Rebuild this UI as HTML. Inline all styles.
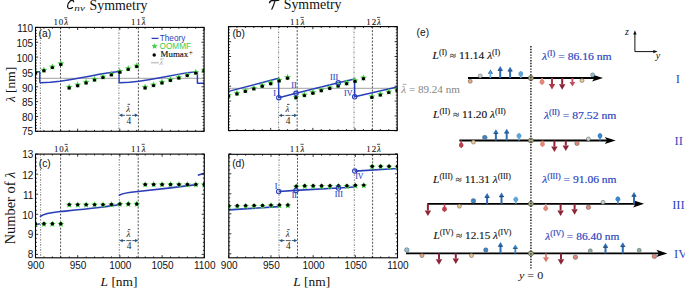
<!DOCTYPE html>
<html><head><meta charset="utf-8"><style>
html,body{margin:0;padding:0;background:#fff;width:685px;height:291px;overflow:hidden;}
svg{display:block;}

</style></head><body>
<svg width="685" height="291" viewBox="0 0 685 291">
<defs><clipPath id="clipA"><rect x="35.5" y="27.4" width="168.6" height="103.9"/></clipPath><clipPath id="clipB"><rect x="228.5" y="26.6" width="168.7" height="103.9"/></clipPath><clipPath id="clipC"><rect x="35.5" y="154.1" width="168.8" height="103.7"/></clipPath><clipPath id="clipD"><rect x="228.8" y="154.3" width="168.7" height="103.5"/></clipPath></defs>
<rect width="685" height="291" fill="#fff"/>
<line x1="40.4" y1="27.4" x2="40.4" y2="131.3" stroke="#666" stroke-width="0.9" stroke-dasharray="1.6,1.4,0.6,1.4" />
<line x1="60.5" y1="27.4" x2="60.5" y2="131.3" stroke="#404040" stroke-width="0.9" stroke-dasharray="2,1.5" />
<line x1="118.9" y1="27.4" x2="118.9" y2="131.3" stroke="#666" stroke-width="0.9" stroke-dasharray="1.6,1.4,0.6,1.4" />
<line x1="138.4" y1="27.4" x2="138.4" y2="131.3" stroke="#404040" stroke-width="0.9" stroke-dasharray="2,1.5" />
<line x1="35.5" y1="78.3" x2="204.1" y2="78.3" stroke="#a0a0a0" stroke-width="1.0" />
<g clip-path="url(#clipA)">
<polyline points="35.5,71.7 39.6,71.7 39.8,72.5 39.8,82 40.4,82.7 50.21,82.3 60.02,81.3 69.84,79.7 79.65,78 89.46,76.2 99.28,74.3 109.09,72.7 118.9,71.5 119.1,72.3 119.1,82.4 119.7,82.7 129.39,82.3 139.07,81.31 148.76,79.73 158.45,78.04 168.14,76.26 177.82,74.38 187.51,72.79 197.2,71.6 197.4,72.4 197.4,83 198,83.3 204.1,83.3" stroke="#2a3eba" stroke-width="1.45" fill="none" stroke-linejoin="round"/>
<polygon points="35.5,68.5 36.47,70.76 38.92,70.99 37.07,72.61 37.62,75.01 35.5,73.76 33.38,75.01 33.93,72.61 32.08,70.99 34.53,70.76" fill="#4ccf4c"/>
<polygon points="43.93,66.4 44.9,68.66 47.35,68.89 45.5,70.51 46.05,72.91 43.93,71.66 41.81,72.91 42.36,70.51 40.51,68.89 42.96,68.66" fill="#4ccf4c"/>
<polygon points="52.36,63.2 53.33,65.46 55.78,65.69 53.93,67.31 54.48,69.71 52.36,68.46 50.24,69.71 50.79,67.31 48.94,65.69 51.39,65.46" fill="#4ccf4c"/>
<polygon points="60.79,60.1 61.76,62.36 64.21,62.59 62.36,64.21 62.91,66.61 60.79,65.36 58.67,66.61 59.22,64.21 57.37,62.59 59.82,62.36" fill="#4ccf4c"/>
<polygon points="69.22,83.6 70.19,85.86 72.64,86.09 70.79,87.71 71.34,90.11 69.22,88.86 67.1,90.11 67.65,87.71 65.8,86.09 68.25,85.86" fill="#4ccf4c"/>
<polygon points="77.65,81.3 78.62,83.56 81.07,83.79 79.22,85.41 79.77,87.81 77.65,86.56 75.53,87.81 76.08,85.41 74.23,83.79 76.68,83.56" fill="#4ccf4c"/>
<polygon points="86.08,78.6 87.05,80.86 89.5,81.09 87.65,82.71 88.2,85.11 86.08,83.86 83.96,85.11 84.51,82.71 82.66,81.09 85.11,80.86" fill="#4ccf4c"/>
<polygon points="94.51,75.7 95.48,77.96 97.93,78.19 96.08,79.81 96.63,82.21 94.51,80.96 92.39,82.21 92.94,79.81 91.09,78.19 93.54,77.96" fill="#4ccf4c"/>
<polygon points="102.94,73.2 103.91,75.46 106.36,75.69 104.51,77.31 105.06,79.71 102.94,78.46 100.82,79.71 101.37,77.31 99.52,75.69 101.97,75.46" fill="#4ccf4c"/>
<polygon points="111.37,70.5 112.34,72.76 114.79,72.99 112.94,74.61 113.49,77.01 111.37,75.76 109.25,77.01 109.8,74.61 107.95,72.99 110.4,72.76" fill="#4ccf4c"/>
<polygon points="119.8,67.8 120.77,70.06 123.22,70.29 121.37,71.91 121.92,74.31 119.8,73.06 117.68,74.31 118.23,71.91 116.38,70.29 118.83,70.06" fill="#4ccf4c"/>
<polygon points="128.23,65 129.2,67.26 131.65,67.49 129.8,69.11 130.35,71.51 128.23,70.26 126.11,71.51 126.66,69.11 124.81,67.49 127.26,67.26" fill="#4ccf4c"/>
<polygon points="136.66,62.2 137.63,64.46 140.08,64.69 138.23,66.31 138.78,68.71 136.66,67.46 134.54,68.71 135.09,66.31 133.24,64.69 135.69,64.46" fill="#4ccf4c"/>
<polygon points="145.09,83.6 146.06,85.86 148.51,86.09 146.66,87.71 147.21,90.11 145.09,88.86 142.97,90.11 143.52,87.71 141.67,86.09 144.12,85.86" fill="#4ccf4c"/>
<polygon points="153.52,81.2 154.49,83.46 156.94,83.69 155.09,85.31 155.64,87.71 153.52,86.46 151.4,87.71 151.95,85.31 150.1,83.69 152.55,83.46" fill="#4ccf4c"/>
<polygon points="161.95,78.6 162.92,80.86 165.37,81.09 163.52,82.71 164.07,85.11 161.95,83.86 159.83,85.11 160.38,82.71 158.53,81.09 160.98,80.86" fill="#4ccf4c"/>
<polygon points="170.38,76.1 171.35,78.36 173.8,78.59 171.95,80.21 172.5,82.61 170.38,81.36 168.26,82.61 168.81,80.21 166.96,78.59 169.41,78.36" fill="#4ccf4c"/>
<polygon points="178.81,73.7 179.78,75.96 182.23,76.19 180.38,77.81 180.93,80.21 178.81,78.96 176.69,80.21 177.24,77.81 175.39,76.19 177.84,75.96" fill="#4ccf4c"/>
<polygon points="187.24,71.2 188.21,73.46 190.66,73.69 188.81,75.31 189.36,77.71 187.24,76.46 185.12,77.71 185.67,75.31 183.82,73.69 186.27,73.46" fill="#4ccf4c"/>
<polygon points="195.67,68.7 196.64,70.96 199.09,71.19 197.24,72.81 197.79,75.21 195.67,73.96 193.55,75.21 194.1,72.81 192.25,71.19 194.7,70.96" fill="#4ccf4c"/>
<polygon points="204.1,66.4 205.07,68.66 207.52,68.89 205.67,70.51 206.22,72.91 204.1,71.66 201.98,72.91 202.53,70.51 200.68,68.89 203.13,68.66" fill="#4ccf4c"/>
<circle cx="35.5" cy="72.9" r="1.72" fill="#000" stroke="none" stroke-width="1"/>
<circle cx="43.93" cy="70.8" r="1.72" fill="#000" stroke="none" stroke-width="1"/>
<circle cx="52.36" cy="67.6" r="1.72" fill="#000" stroke="none" stroke-width="1"/>
<circle cx="60.79" cy="64.5" r="1.72" fill="#000" stroke="none" stroke-width="1"/>
<circle cx="69.22" cy="88" r="1.72" fill="#000" stroke="none" stroke-width="1"/>
<circle cx="77.65" cy="85.7" r="1.72" fill="#000" stroke="none" stroke-width="1"/>
<circle cx="86.08" cy="83" r="1.72" fill="#000" stroke="none" stroke-width="1"/>
<circle cx="94.51" cy="80.1" r="1.72" fill="#000" stroke="none" stroke-width="1"/>
<circle cx="102.94" cy="77.6" r="1.72" fill="#000" stroke="none" stroke-width="1"/>
<circle cx="111.37" cy="74.9" r="1.72" fill="#000" stroke="none" stroke-width="1"/>
<circle cx="119.8" cy="72.2" r="1.72" fill="#000" stroke="none" stroke-width="1"/>
<circle cx="128.23" cy="69.4" r="1.72" fill="#000" stroke="none" stroke-width="1"/>
<circle cx="136.66" cy="66.6" r="1.72" fill="#000" stroke="none" stroke-width="1"/>
<circle cx="145.09" cy="88" r="1.72" fill="#000" stroke="none" stroke-width="1"/>
<circle cx="153.52" cy="85.6" r="1.72" fill="#000" stroke="none" stroke-width="1"/>
<circle cx="161.95" cy="83" r="1.72" fill="#000" stroke="none" stroke-width="1"/>
<circle cx="170.38" cy="80.5" r="1.72" fill="#000" stroke="none" stroke-width="1"/>
<circle cx="178.81" cy="78.1" r="1.72" fill="#000" stroke="none" stroke-width="1"/>
<circle cx="187.24" cy="75.6" r="1.72" fill="#000" stroke="none" stroke-width="1"/>
<circle cx="195.67" cy="73.1" r="1.72" fill="#000" stroke="none" stroke-width="1"/>
<circle cx="204.1" cy="70.8" r="1.72" fill="#000" stroke="none" stroke-width="1"/>
</g>
<line x1="35.5" y1="131.3" x2="35.5" y2="128.7" stroke="#000" stroke-width="0.8" />
<line x1="35.5" y1="27.4" x2="35.5" y2="30" stroke="#000" stroke-width="0.8" />
<line x1="43.93" y1="131.3" x2="43.93" y2="129.9" stroke="#000" stroke-width="0.8" />
<line x1="43.93" y1="27.4" x2="43.93" y2="28.8" stroke="#000" stroke-width="0.8" />
<line x1="52.36" y1="131.3" x2="52.36" y2="129.9" stroke="#000" stroke-width="0.8" />
<line x1="52.36" y1="27.4" x2="52.36" y2="28.8" stroke="#000" stroke-width="0.8" />
<line x1="60.79" y1="131.3" x2="60.79" y2="129.9" stroke="#000" stroke-width="0.8" />
<line x1="60.79" y1="27.4" x2="60.79" y2="28.8" stroke="#000" stroke-width="0.8" />
<line x1="69.22" y1="131.3" x2="69.22" y2="129.9" stroke="#000" stroke-width="0.8" />
<line x1="69.22" y1="27.4" x2="69.22" y2="28.8" stroke="#000" stroke-width="0.8" />
<line x1="77.65" y1="131.3" x2="77.65" y2="128.7" stroke="#000" stroke-width="0.8" />
<line x1="77.65" y1="27.4" x2="77.65" y2="30" stroke="#000" stroke-width="0.8" />
<line x1="86.08" y1="131.3" x2="86.08" y2="129.9" stroke="#000" stroke-width="0.8" />
<line x1="86.08" y1="27.4" x2="86.08" y2="28.8" stroke="#000" stroke-width="0.8" />
<line x1="94.51" y1="131.3" x2="94.51" y2="129.9" stroke="#000" stroke-width="0.8" />
<line x1="94.51" y1="27.4" x2="94.51" y2="28.8" stroke="#000" stroke-width="0.8" />
<line x1="102.94" y1="131.3" x2="102.94" y2="129.9" stroke="#000" stroke-width="0.8" />
<line x1="102.94" y1="27.4" x2="102.94" y2="28.8" stroke="#000" stroke-width="0.8" />
<line x1="111.37" y1="131.3" x2="111.37" y2="129.9" stroke="#000" stroke-width="0.8" />
<line x1="111.37" y1="27.4" x2="111.37" y2="28.8" stroke="#000" stroke-width="0.8" />
<line x1="119.8" y1="131.3" x2="119.8" y2="128.7" stroke="#000" stroke-width="0.8" />
<line x1="119.8" y1="27.4" x2="119.8" y2="30" stroke="#000" stroke-width="0.8" />
<line x1="128.23" y1="131.3" x2="128.23" y2="129.9" stroke="#000" stroke-width="0.8" />
<line x1="128.23" y1="27.4" x2="128.23" y2="28.8" stroke="#000" stroke-width="0.8" />
<line x1="136.66" y1="131.3" x2="136.66" y2="129.9" stroke="#000" stroke-width="0.8" />
<line x1="136.66" y1="27.4" x2="136.66" y2="28.8" stroke="#000" stroke-width="0.8" />
<line x1="145.09" y1="131.3" x2="145.09" y2="129.9" stroke="#000" stroke-width="0.8" />
<line x1="145.09" y1="27.4" x2="145.09" y2="28.8" stroke="#000" stroke-width="0.8" />
<line x1="153.52" y1="131.3" x2="153.52" y2="129.9" stroke="#000" stroke-width="0.8" />
<line x1="153.52" y1="27.4" x2="153.52" y2="28.8" stroke="#000" stroke-width="0.8" />
<line x1="161.95" y1="131.3" x2="161.95" y2="128.7" stroke="#000" stroke-width="0.8" />
<line x1="161.95" y1="27.4" x2="161.95" y2="30" stroke="#000" stroke-width="0.8" />
<line x1="170.38" y1="131.3" x2="170.38" y2="129.9" stroke="#000" stroke-width="0.8" />
<line x1="170.38" y1="27.4" x2="170.38" y2="28.8" stroke="#000" stroke-width="0.8" />
<line x1="178.81" y1="131.3" x2="178.81" y2="129.9" stroke="#000" stroke-width="0.8" />
<line x1="178.81" y1="27.4" x2="178.81" y2="28.8" stroke="#000" stroke-width="0.8" />
<line x1="187.24" y1="131.3" x2="187.24" y2="129.9" stroke="#000" stroke-width="0.8" />
<line x1="187.24" y1="27.4" x2="187.24" y2="28.8" stroke="#000" stroke-width="0.8" />
<line x1="195.67" y1="131.3" x2="195.67" y2="129.9" stroke="#000" stroke-width="0.8" />
<line x1="195.67" y1="27.4" x2="195.67" y2="28.8" stroke="#000" stroke-width="0.8" />
<line x1="204.1" y1="131.3" x2="204.1" y2="128.7" stroke="#000" stroke-width="0.8" />
<line x1="204.1" y1="27.4" x2="204.1" y2="30" stroke="#000" stroke-width="0.8" />
<rect x="35.5" y="27.4" width="168.6" height="103.9" fill="none" stroke="#000" stroke-width="1.1"/>
<line x1="35.5" y1="27.4" x2="38.1" y2="27.4" stroke="#000" stroke-width="0.8" />
<line x1="204.1" y1="27.4" x2="201.5" y2="27.4" stroke="#000" stroke-width="0.8" />
<line x1="35.5" y1="30.37" x2="36.9" y2="30.37" stroke="#000" stroke-width="0.8" />
<line x1="204.1" y1="30.37" x2="202.7" y2="30.37" stroke="#000" stroke-width="0.8" />
<line x1="35.5" y1="33.34" x2="36.9" y2="33.34" stroke="#000" stroke-width="0.8" />
<line x1="204.1" y1="33.34" x2="202.7" y2="33.34" stroke="#000" stroke-width="0.8" />
<line x1="35.5" y1="36.31" x2="36.9" y2="36.31" stroke="#000" stroke-width="0.8" />
<line x1="204.1" y1="36.31" x2="202.7" y2="36.31" stroke="#000" stroke-width="0.8" />
<line x1="35.5" y1="39.27" x2="36.9" y2="39.27" stroke="#000" stroke-width="0.8" />
<line x1="204.1" y1="39.27" x2="202.7" y2="39.27" stroke="#000" stroke-width="0.8" />
<line x1="35.5" y1="42.24" x2="38.1" y2="42.24" stroke="#000" stroke-width="0.8" />
<line x1="204.1" y1="42.24" x2="201.5" y2="42.24" stroke="#000" stroke-width="0.8" />
<line x1="35.5" y1="45.21" x2="36.9" y2="45.21" stroke="#000" stroke-width="0.8" />
<line x1="204.1" y1="45.21" x2="202.7" y2="45.21" stroke="#000" stroke-width="0.8" />
<line x1="35.5" y1="48.18" x2="36.9" y2="48.18" stroke="#000" stroke-width="0.8" />
<line x1="204.1" y1="48.18" x2="202.7" y2="48.18" stroke="#000" stroke-width="0.8" />
<line x1="35.5" y1="51.15" x2="36.9" y2="51.15" stroke="#000" stroke-width="0.8" />
<line x1="204.1" y1="51.15" x2="202.7" y2="51.15" stroke="#000" stroke-width="0.8" />
<line x1="35.5" y1="54.12" x2="36.9" y2="54.12" stroke="#000" stroke-width="0.8" />
<line x1="204.1" y1="54.12" x2="202.7" y2="54.12" stroke="#000" stroke-width="0.8" />
<line x1="35.5" y1="57.09" x2="38.1" y2="57.09" stroke="#000" stroke-width="0.8" />
<line x1="204.1" y1="57.09" x2="201.5" y2="57.09" stroke="#000" stroke-width="0.8" />
<line x1="35.5" y1="60.05" x2="36.9" y2="60.05" stroke="#000" stroke-width="0.8" />
<line x1="204.1" y1="60.05" x2="202.7" y2="60.05" stroke="#000" stroke-width="0.8" />
<line x1="35.5" y1="63.02" x2="36.9" y2="63.02" stroke="#000" stroke-width="0.8" />
<line x1="204.1" y1="63.02" x2="202.7" y2="63.02" stroke="#000" stroke-width="0.8" />
<line x1="35.5" y1="65.99" x2="36.9" y2="65.99" stroke="#000" stroke-width="0.8" />
<line x1="204.1" y1="65.99" x2="202.7" y2="65.99" stroke="#000" stroke-width="0.8" />
<line x1="35.5" y1="68.96" x2="36.9" y2="68.96" stroke="#000" stroke-width="0.8" />
<line x1="204.1" y1="68.96" x2="202.7" y2="68.96" stroke="#000" stroke-width="0.8" />
<line x1="35.5" y1="71.93" x2="38.1" y2="71.93" stroke="#000" stroke-width="0.8" />
<line x1="204.1" y1="71.93" x2="201.5" y2="71.93" stroke="#000" stroke-width="0.8" />
<line x1="35.5" y1="74.9" x2="36.9" y2="74.9" stroke="#000" stroke-width="0.8" />
<line x1="204.1" y1="74.9" x2="202.7" y2="74.9" stroke="#000" stroke-width="0.8" />
<line x1="35.5" y1="77.87" x2="36.9" y2="77.87" stroke="#000" stroke-width="0.8" />
<line x1="204.1" y1="77.87" x2="202.7" y2="77.87" stroke="#000" stroke-width="0.8" />
<line x1="35.5" y1="80.83" x2="36.9" y2="80.83" stroke="#000" stroke-width="0.8" />
<line x1="204.1" y1="80.83" x2="202.7" y2="80.83" stroke="#000" stroke-width="0.8" />
<line x1="35.5" y1="83.8" x2="36.9" y2="83.8" stroke="#000" stroke-width="0.8" />
<line x1="204.1" y1="83.8" x2="202.7" y2="83.8" stroke="#000" stroke-width="0.8" />
<line x1="35.5" y1="86.77" x2="38.1" y2="86.77" stroke="#000" stroke-width="0.8" />
<line x1="204.1" y1="86.77" x2="201.5" y2="86.77" stroke="#000" stroke-width="0.8" />
<line x1="35.5" y1="89.74" x2="36.9" y2="89.74" stroke="#000" stroke-width="0.8" />
<line x1="204.1" y1="89.74" x2="202.7" y2="89.74" stroke="#000" stroke-width="0.8" />
<line x1="35.5" y1="92.71" x2="36.9" y2="92.71" stroke="#000" stroke-width="0.8" />
<line x1="204.1" y1="92.71" x2="202.7" y2="92.71" stroke="#000" stroke-width="0.8" />
<line x1="35.5" y1="95.68" x2="36.9" y2="95.68" stroke="#000" stroke-width="0.8" />
<line x1="204.1" y1="95.68" x2="202.7" y2="95.68" stroke="#000" stroke-width="0.8" />
<line x1="35.5" y1="98.65" x2="36.9" y2="98.65" stroke="#000" stroke-width="0.8" />
<line x1="204.1" y1="98.65" x2="202.7" y2="98.65" stroke="#000" stroke-width="0.8" />
<line x1="35.5" y1="101.61" x2="38.1" y2="101.61" stroke="#000" stroke-width="0.8" />
<line x1="204.1" y1="101.61" x2="201.5" y2="101.61" stroke="#000" stroke-width="0.8" />
<line x1="35.5" y1="104.58" x2="36.9" y2="104.58" stroke="#000" stroke-width="0.8" />
<line x1="204.1" y1="104.58" x2="202.7" y2="104.58" stroke="#000" stroke-width="0.8" />
<line x1="35.5" y1="107.55" x2="36.9" y2="107.55" stroke="#000" stroke-width="0.8" />
<line x1="204.1" y1="107.55" x2="202.7" y2="107.55" stroke="#000" stroke-width="0.8" />
<line x1="35.5" y1="110.52" x2="36.9" y2="110.52" stroke="#000" stroke-width="0.8" />
<line x1="204.1" y1="110.52" x2="202.7" y2="110.52" stroke="#000" stroke-width="0.8" />
<line x1="35.5" y1="113.49" x2="36.9" y2="113.49" stroke="#000" stroke-width="0.8" />
<line x1="204.1" y1="113.49" x2="202.7" y2="113.49" stroke="#000" stroke-width="0.8" />
<line x1="35.5" y1="116.46" x2="38.1" y2="116.46" stroke="#000" stroke-width="0.8" />
<line x1="204.1" y1="116.46" x2="201.5" y2="116.46" stroke="#000" stroke-width="0.8" />
<line x1="35.5" y1="119.43" x2="36.9" y2="119.43" stroke="#000" stroke-width="0.8" />
<line x1="204.1" y1="119.43" x2="202.7" y2="119.43" stroke="#000" stroke-width="0.8" />
<line x1="35.5" y1="122.39" x2="36.9" y2="122.39" stroke="#000" stroke-width="0.8" />
<line x1="204.1" y1="122.39" x2="202.7" y2="122.39" stroke="#000" stroke-width="0.8" />
<line x1="35.5" y1="125.36" x2="36.9" y2="125.36" stroke="#000" stroke-width="0.8" />
<line x1="204.1" y1="125.36" x2="202.7" y2="125.36" stroke="#000" stroke-width="0.8" />
<line x1="35.5" y1="128.33" x2="36.9" y2="128.33" stroke="#000" stroke-width="0.8" />
<line x1="204.1" y1="128.33" x2="202.7" y2="128.33" stroke="#000" stroke-width="0.8" />
<line x1="35.5" y1="131.3" x2="38.1" y2="131.3" stroke="#000" stroke-width="0.8" />
<line x1="204.1" y1="131.3" x2="201.5" y2="131.3" stroke="#000" stroke-width="0.8" />
<text x="33.2" y="32.3" font-family="Liberation Sans" font-size="10" text-anchor="end" fill="#111" >110</text>
<text x="33.2" y="46.9" font-family="Liberation Sans" font-size="10" text-anchor="end" fill="#111" >105</text>
<text x="33.2" y="61.7" font-family="Liberation Sans" font-size="10" text-anchor="end" fill="#111" >100</text>
<text x="33.2" y="76.8" font-family="Liberation Sans" font-size="10" text-anchor="end" fill="#111" >95</text>
<text x="33.2" y="91.8" font-family="Liberation Sans" font-size="10" text-anchor="end" fill="#111" >90</text>
<text x="33.2" y="106.3" font-family="Liberation Sans" font-size="10" text-anchor="end" fill="#111" >85</text>
<text x="33.2" y="120.7" font-family="Liberation Sans" font-size="10" text-anchor="end" fill="#111" >80</text>
<text x="33.2" y="135.1" font-family="Liberation Sans" font-size="10" text-anchor="end" fill="#111" >75</text>
<text x="38.6" y="37.1" font-family="Liberation Sans" font-size="10.2" text-anchor="start" fill="#111" >(a)</text>
<line x1="151.6" y1="38.4" x2="158.5" y2="38.4" stroke="#2a3eba" stroke-width="1.3" />
<text x="159.8" y="40.8" font-family="Liberation Sans" font-size="8.2" text-anchor="start" fill="#2a3eba" >Theory</text>
<polygon points="154.6,43.2 155.51,45.05 157.55,45.34 156.07,46.78 156.42,48.81 154.6,47.85 152.78,48.81 153.13,46.78 151.65,45.34 153.69,45.05" fill="#4ccf4c"/>
<text x="159.6" y="49" font-family="Liberation Sans" font-size="8.2" text-anchor="start" fill="#46c846" >OOMMF</text>
<circle cx="154.2" cy="55" r="1.72" fill="#000" stroke="none" stroke-width="1"/>
<text x="160.6" y="57.4" font-family="Liberation Serif" font-size="9.0" text-anchor="start" fill="#111" textLength="27.6" lengthAdjust="spacingAndGlyphs" stroke="#111" stroke-width="0.15">Mumax</text>
<text x="188.7" y="55" font-family="Liberation Serif" font-size="7.4" text-anchor="start" fill="#111" >+</text>
<line x1="151" y1="62.7" x2="158.7" y2="62.7" stroke="#c4c4c4" stroke-width="1.5" />
<text x="159.4" y="65.3" font-family="Liberation Serif" font-size="8.6" text-anchor="start" fill="#aaaaaa" font-style="italic">λ</text>
<line x1="160.3" y1="58.8" x2="164" y2="58.8" stroke="#aaaaaa" stroke-width="0.6" />
<text x="53.5" y="25" font-family="Liberation Serif" font-size="8.9" fill="#1a1a1a" stroke="#1a1a1a" stroke-width="0.1" textLength="14.6" lengthAdjust="spacing">10<tspan font-style="italic">λ</tspan></text>
<line x1="64.2" y1="17.8" x2="67.4" y2="17.8" stroke="#1a1a1a" stroke-width="0.75" />
<text x="131.1" y="25" font-family="Liberation Serif" font-size="8.9" fill="#1a1a1a" stroke="#1a1a1a" stroke-width="0.1" textLength="14.6" lengthAdjust="spacing">11<tspan font-style="italic">λ</tspan></text>
<line x1="141.8" y1="17.8" x2="145" y2="17.8" stroke="#1a1a1a" stroke-width="0.75" />
<polygon points="118.9,115.3 122.3,113.6 122.3,117" fill="#2b5580"/>
<polygon points="138.3,115.3 134.9,113.6 134.9,117" fill="#2b5580"/>
<line x1="120.9" y1="115.3" x2="124.9" y2="115.3" stroke="#2b5580" stroke-width="1.0" />
<line x1="132.1" y1="115.3" x2="136.3" y2="115.3" stroke="#2b5580" stroke-width="1.0" />
<line x1="126.1" y1="115.3" x2="131.1" y2="115.3" stroke="#444" stroke-width="0.9" />
<text x="126.2" y="111.6" font-family="Liberation Serif" font-size="9.0" text-anchor="start" fill="#1a1a1a" font-style="italic">λ</text>
<line x1="127.6" y1="104.3" x2="130.1" y2="104.3" stroke="#222" stroke-width="0.8" />
<text x="128.8" y="123.9" font-family="Liberation Serif" font-size="9.4" text-anchor="middle" fill="#1a1a1a" >4</text>
<line x1="278.6" y1="26.6" x2="278.6" y2="130.5" stroke="#666" stroke-width="0.9" stroke-dasharray="1.6,1.4,0.6,1.4" />
<line x1="297.2" y1="26.6" x2="297.2" y2="130.5" stroke="#404040" stroke-width="0.9" stroke-dasharray="2,1.5" />
<line x1="354" y1="26.6" x2="354" y2="130.5" stroke="#666" stroke-width="0.9" stroke-dasharray="1.6,1.4,0.6,1.4" />
<line x1="372.4" y1="26.6" x2="372.4" y2="130.5" stroke="#404040" stroke-width="0.9" stroke-dasharray="2,1.5" />
<line x1="228.5" y1="88.3" x2="397.2" y2="88.3" stroke="#a0a0a0" stroke-width="1.0" />
<g clip-path="url(#clipB)">
<polyline points="228.5,91.4 278.5,78.3 278.8,97.7 296,93.3 338.3,82.8 354.6,79 354.7,96.8 397.2,87" stroke="#2a3eba" stroke-width="1.45" fill="none" stroke-linejoin="round"/>
<polygon points="228.5,91.7 229.47,93.96 231.92,94.19 230.07,95.81 230.62,98.21 228.5,96.96 226.38,98.21 226.93,95.81 225.08,94.19 227.53,93.96" fill="#4ccf4c"/>
<polygon points="236.94,89.6 237.91,91.86 240.36,92.09 238.51,93.71 239.05,96.11 236.94,94.86 234.82,96.11 235.36,93.71 233.51,92.09 235.96,91.86" fill="#4ccf4c"/>
<polygon points="245.37,87 246.34,89.26 248.79,89.49 246.94,91.11 247.49,93.51 245.37,92.26 243.25,93.51 243.8,91.11 241.95,89.49 244.4,89.26" fill="#4ccf4c"/>
<polygon points="253.81,84.5 254.78,86.76 257.23,86.99 255.38,88.61 255.92,91.01 253.81,89.76 251.69,91.01 252.23,88.61 250.38,86.99 252.83,86.76" fill="#4ccf4c"/>
<polygon points="262.24,81.9 263.21,84.16 265.66,84.39 263.81,86.01 264.36,88.41 262.24,87.16 260.12,88.41 260.67,86.01 258.82,84.39 261.27,84.16" fill="#4ccf4c"/>
<polygon points="270.68,79.3 271.65,81.56 274.1,81.79 272.25,83.41 272.79,85.81 270.68,84.56 268.56,85.81 269.1,83.41 267.25,81.79 269.7,81.56" fill="#4ccf4c"/>
<polygon points="279.11,76.5 280.08,78.76 282.53,78.99 280.68,80.61 281.23,83.01 279.11,81.76 276.99,83.01 277.54,80.61 275.69,78.99 278.14,78.76" fill="#4ccf4c"/>
<polygon points="287.55,73.8 288.52,76.06 290.97,76.29 289.12,77.91 289.66,80.31 287.55,79.06 285.43,80.31 285.97,77.91 284.12,76.29 286.57,76.06" fill="#4ccf4c"/>
<polygon points="295.98,93.4 296.95,95.66 299.4,95.89 297.55,97.51 298.1,99.91 295.98,98.66 293.86,99.91 294.41,97.51 292.56,95.89 295.01,95.66" fill="#4ccf4c"/>
<polygon points="304.41,91.2 305.39,93.46 307.84,93.69 305.99,95.31 306.53,97.71 304.41,96.46 302.3,97.71 302.84,95.31 300.99,93.69 303.44,93.46" fill="#4ccf4c"/>
<polygon points="312.85,88.8 313.82,91.06 316.27,91.29 314.42,92.91 314.97,95.31 312.85,94.06 310.73,95.31 311.28,92.91 309.43,91.29 311.88,91.06" fill="#4ccf4c"/>
<polygon points="321.28,86.3 322.26,88.56 324.71,88.79 322.86,90.41 323.4,92.81 321.28,91.56 319.17,92.81 319.71,90.41 317.86,88.79 320.31,88.56" fill="#4ccf4c"/>
<polygon points="329.72,84.1 330.69,86.36 333.14,86.59 331.29,88.21 331.84,90.61 329.72,89.36 327.6,90.61 328.15,88.21 326.3,86.59 328.75,86.36" fill="#4ccf4c"/>
<polygon points="338.15,81.7 339.13,83.96 341.58,84.19 339.73,85.81 340.27,88.21 338.15,86.96 336.04,88.21 336.58,85.81 334.73,84.19 337.18,83.96" fill="#4ccf4c"/>
<polygon points="346.59,79.3 347.56,81.56 350.01,81.79 348.16,83.41 348.71,85.81 346.59,84.56 344.47,85.81 345.02,83.41 343.17,81.79 345.62,81.56" fill="#4ccf4c"/>
<polygon points="355.02,77 356,79.26 358.45,79.49 356.6,81.11 357.14,83.51 355.02,82.26 352.91,83.51 353.45,81.11 351.6,79.49 354.05,79.26" fill="#4ccf4c"/>
<polygon points="363.46,74.3 364.43,76.56 366.88,76.79 365.03,78.41 365.58,80.81 363.46,79.56 361.34,80.81 361.89,78.41 360.04,76.79 362.49,76.56" fill="#4ccf4c"/>
<polygon points="371.89,93 372.87,95.26 375.32,95.49 373.47,97.11 374.01,99.51 371.89,98.26 369.78,99.51 370.32,97.11 368.47,95.49 370.92,95.26" fill="#4ccf4c"/>
<polygon points="380.33,90.7 381.3,92.96 383.75,93.19 381.9,94.81 382.45,97.21 380.33,95.96 378.21,97.21 378.76,94.81 376.91,93.19 379.36,92.96" fill="#4ccf4c"/>
<polygon points="388.76,88.2 389.74,90.46 392.19,90.69 390.34,92.31 390.88,94.71 388.76,93.46 386.65,94.71 387.19,92.31 385.34,90.69 387.79,90.46" fill="#4ccf4c"/>
<polygon points="397.2,86.1 398.17,88.36 400.62,88.59 398.77,90.21 399.32,92.61 397.2,91.36 395.08,92.61 395.63,90.21 393.78,88.59 396.23,88.36" fill="#4ccf4c"/>
<circle cx="228.5" cy="96.1" r="1.72" fill="#000" stroke="none" stroke-width="1"/>
<circle cx="236.94" cy="94" r="1.72" fill="#000" stroke="none" stroke-width="1"/>
<circle cx="245.37" cy="91.4" r="1.72" fill="#000" stroke="none" stroke-width="1"/>
<circle cx="253.81" cy="88.9" r="1.72" fill="#000" stroke="none" stroke-width="1"/>
<circle cx="262.24" cy="86.3" r="1.72" fill="#000" stroke="none" stroke-width="1"/>
<circle cx="270.68" cy="83.7" r="1.72" fill="#000" stroke="none" stroke-width="1"/>
<circle cx="279.11" cy="80.9" r="1.72" fill="#000" stroke="none" stroke-width="1"/>
<circle cx="287.55" cy="78.2" r="1.72" fill="#000" stroke="none" stroke-width="1"/>
<circle cx="295.98" cy="97.8" r="1.72" fill="#000" stroke="none" stroke-width="1"/>
<circle cx="304.41" cy="95.6" r="1.72" fill="#000" stroke="none" stroke-width="1"/>
<circle cx="312.85" cy="93.2" r="1.72" fill="#000" stroke="none" stroke-width="1"/>
<circle cx="321.28" cy="90.7" r="1.72" fill="#000" stroke="none" stroke-width="1"/>
<circle cx="329.72" cy="88.5" r="1.72" fill="#000" stroke="none" stroke-width="1"/>
<circle cx="338.15" cy="86.1" r="1.72" fill="#000" stroke="none" stroke-width="1"/>
<circle cx="346.59" cy="83.7" r="1.72" fill="#000" stroke="none" stroke-width="1"/>
<circle cx="355.02" cy="81.4" r="1.72" fill="#000" stroke="none" stroke-width="1"/>
<circle cx="363.46" cy="78.7" r="1.72" fill="#000" stroke="none" stroke-width="1"/>
<circle cx="371.89" cy="97.4" r="1.72" fill="#000" stroke="none" stroke-width="1"/>
<circle cx="380.33" cy="95.1" r="1.72" fill="#000" stroke="none" stroke-width="1"/>
<circle cx="388.76" cy="92.6" r="1.72" fill="#000" stroke="none" stroke-width="1"/>
<circle cx="397.2" cy="90.5" r="1.72" fill="#000" stroke="none" stroke-width="1"/>
<circle cx="278.8" cy="97.7" r="2.2" fill="none" stroke="#2a3eba" stroke-width="1.1"/>
<circle cx="296" cy="93.3" r="2.2" fill="none" stroke="#2a3eba" stroke-width="1.1"/>
<circle cx="338.3" cy="82.8" r="2.2" fill="none" stroke="#2a3eba" stroke-width="1.1"/>
<circle cx="354.7" cy="96.8" r="2.2" fill="none" stroke="#2a3eba" stroke-width="1.1"/>
</g>
<line x1="228.5" y1="130.5" x2="228.5" y2="127.9" stroke="#000" stroke-width="0.8" />
<line x1="228.5" y1="26.6" x2="228.5" y2="29.2" stroke="#000" stroke-width="0.8" />
<line x1="236.94" y1="130.5" x2="236.94" y2="129.1" stroke="#000" stroke-width="0.8" />
<line x1="236.94" y1="26.6" x2="236.94" y2="28" stroke="#000" stroke-width="0.8" />
<line x1="245.37" y1="130.5" x2="245.37" y2="129.1" stroke="#000" stroke-width="0.8" />
<line x1="245.37" y1="26.6" x2="245.37" y2="28" stroke="#000" stroke-width="0.8" />
<line x1="253.81" y1="130.5" x2="253.81" y2="129.1" stroke="#000" stroke-width="0.8" />
<line x1="253.81" y1="26.6" x2="253.81" y2="28" stroke="#000" stroke-width="0.8" />
<line x1="262.24" y1="130.5" x2="262.24" y2="129.1" stroke="#000" stroke-width="0.8" />
<line x1="262.24" y1="26.6" x2="262.24" y2="28" stroke="#000" stroke-width="0.8" />
<line x1="270.68" y1="130.5" x2="270.68" y2="127.9" stroke="#000" stroke-width="0.8" />
<line x1="270.68" y1="26.6" x2="270.68" y2="29.2" stroke="#000" stroke-width="0.8" />
<line x1="279.11" y1="130.5" x2="279.11" y2="129.1" stroke="#000" stroke-width="0.8" />
<line x1="279.11" y1="26.6" x2="279.11" y2="28" stroke="#000" stroke-width="0.8" />
<line x1="287.55" y1="130.5" x2="287.55" y2="129.1" stroke="#000" stroke-width="0.8" />
<line x1="287.55" y1="26.6" x2="287.55" y2="28" stroke="#000" stroke-width="0.8" />
<line x1="295.98" y1="130.5" x2="295.98" y2="129.1" stroke="#000" stroke-width="0.8" />
<line x1="295.98" y1="26.6" x2="295.98" y2="28" stroke="#000" stroke-width="0.8" />
<line x1="304.41" y1="130.5" x2="304.41" y2="129.1" stroke="#000" stroke-width="0.8" />
<line x1="304.41" y1="26.6" x2="304.41" y2="28" stroke="#000" stroke-width="0.8" />
<line x1="312.85" y1="130.5" x2="312.85" y2="127.9" stroke="#000" stroke-width="0.8" />
<line x1="312.85" y1="26.6" x2="312.85" y2="29.2" stroke="#000" stroke-width="0.8" />
<line x1="321.28" y1="130.5" x2="321.28" y2="129.1" stroke="#000" stroke-width="0.8" />
<line x1="321.28" y1="26.6" x2="321.28" y2="28" stroke="#000" stroke-width="0.8" />
<line x1="329.72" y1="130.5" x2="329.72" y2="129.1" stroke="#000" stroke-width="0.8" />
<line x1="329.72" y1="26.6" x2="329.72" y2="28" stroke="#000" stroke-width="0.8" />
<line x1="338.15" y1="130.5" x2="338.15" y2="129.1" stroke="#000" stroke-width="0.8" />
<line x1="338.15" y1="26.6" x2="338.15" y2="28" stroke="#000" stroke-width="0.8" />
<line x1="346.59" y1="130.5" x2="346.59" y2="129.1" stroke="#000" stroke-width="0.8" />
<line x1="346.59" y1="26.6" x2="346.59" y2="28" stroke="#000" stroke-width="0.8" />
<line x1="355.02" y1="130.5" x2="355.02" y2="127.9" stroke="#000" stroke-width="0.8" />
<line x1="355.02" y1="26.6" x2="355.02" y2="29.2" stroke="#000" stroke-width="0.8" />
<line x1="363.46" y1="130.5" x2="363.46" y2="129.1" stroke="#000" stroke-width="0.8" />
<line x1="363.46" y1="26.6" x2="363.46" y2="28" stroke="#000" stroke-width="0.8" />
<line x1="371.89" y1="130.5" x2="371.89" y2="129.1" stroke="#000" stroke-width="0.8" />
<line x1="371.89" y1="26.6" x2="371.89" y2="28" stroke="#000" stroke-width="0.8" />
<line x1="380.33" y1="130.5" x2="380.33" y2="129.1" stroke="#000" stroke-width="0.8" />
<line x1="380.33" y1="26.6" x2="380.33" y2="28" stroke="#000" stroke-width="0.8" />
<line x1="388.76" y1="130.5" x2="388.76" y2="129.1" stroke="#000" stroke-width="0.8" />
<line x1="388.76" y1="26.6" x2="388.76" y2="28" stroke="#000" stroke-width="0.8" />
<line x1="397.2" y1="130.5" x2="397.2" y2="127.9" stroke="#000" stroke-width="0.8" />
<line x1="397.2" y1="26.6" x2="397.2" y2="29.2" stroke="#000" stroke-width="0.8" />
<rect x="228.5" y="26.6" width="168.7" height="103.9" fill="none" stroke="#000" stroke-width="1.1"/>
<line x1="228.5" y1="26.8" x2="231.1" y2="26.8" stroke="#000" stroke-width="0.8" />
<line x1="397.2" y1="26.8" x2="394.6" y2="26.8" stroke="#000" stroke-width="0.8" />
<line x1="228.5" y1="29.77" x2="229.9" y2="29.77" stroke="#000" stroke-width="0.8" />
<line x1="397.2" y1="29.77" x2="395.8" y2="29.77" stroke="#000" stroke-width="0.8" />
<line x1="228.5" y1="32.74" x2="229.9" y2="32.74" stroke="#000" stroke-width="0.8" />
<line x1="397.2" y1="32.74" x2="395.8" y2="32.74" stroke="#000" stroke-width="0.8" />
<line x1="228.5" y1="35.71" x2="229.9" y2="35.71" stroke="#000" stroke-width="0.8" />
<line x1="397.2" y1="35.71" x2="395.8" y2="35.71" stroke="#000" stroke-width="0.8" />
<line x1="228.5" y1="38.68" x2="229.9" y2="38.68" stroke="#000" stroke-width="0.8" />
<line x1="397.2" y1="38.68" x2="395.8" y2="38.68" stroke="#000" stroke-width="0.8" />
<line x1="228.5" y1="41.65" x2="231.1" y2="41.65" stroke="#000" stroke-width="0.8" />
<line x1="397.2" y1="41.65" x2="394.6" y2="41.65" stroke="#000" stroke-width="0.8" />
<line x1="228.5" y1="44.62" x2="229.9" y2="44.62" stroke="#000" stroke-width="0.8" />
<line x1="397.2" y1="44.62" x2="395.8" y2="44.62" stroke="#000" stroke-width="0.8" />
<line x1="228.5" y1="47.59" x2="229.9" y2="47.59" stroke="#000" stroke-width="0.8" />
<line x1="397.2" y1="47.59" x2="395.8" y2="47.59" stroke="#000" stroke-width="0.8" />
<line x1="228.5" y1="50.56" x2="229.9" y2="50.56" stroke="#000" stroke-width="0.8" />
<line x1="397.2" y1="50.56" x2="395.8" y2="50.56" stroke="#000" stroke-width="0.8" />
<line x1="228.5" y1="53.53" x2="229.9" y2="53.53" stroke="#000" stroke-width="0.8" />
<line x1="397.2" y1="53.53" x2="395.8" y2="53.53" stroke="#000" stroke-width="0.8" />
<line x1="228.5" y1="56.5" x2="231.1" y2="56.5" stroke="#000" stroke-width="0.8" />
<line x1="397.2" y1="56.5" x2="394.6" y2="56.5" stroke="#000" stroke-width="0.8" />
<line x1="228.5" y1="59.47" x2="229.9" y2="59.47" stroke="#000" stroke-width="0.8" />
<line x1="397.2" y1="59.47" x2="395.8" y2="59.47" stroke="#000" stroke-width="0.8" />
<line x1="228.5" y1="62.44" x2="229.9" y2="62.44" stroke="#000" stroke-width="0.8" />
<line x1="397.2" y1="62.44" x2="395.8" y2="62.44" stroke="#000" stroke-width="0.8" />
<line x1="228.5" y1="65.41" x2="229.9" y2="65.41" stroke="#000" stroke-width="0.8" />
<line x1="397.2" y1="65.41" x2="395.8" y2="65.41" stroke="#000" stroke-width="0.8" />
<line x1="228.5" y1="68.38" x2="229.9" y2="68.38" stroke="#000" stroke-width="0.8" />
<line x1="397.2" y1="68.38" x2="395.8" y2="68.38" stroke="#000" stroke-width="0.8" />
<line x1="228.5" y1="71.35" x2="231.1" y2="71.35" stroke="#000" stroke-width="0.8" />
<line x1="397.2" y1="71.35" x2="394.6" y2="71.35" stroke="#000" stroke-width="0.8" />
<line x1="228.5" y1="74.32" x2="229.9" y2="74.32" stroke="#000" stroke-width="0.8" />
<line x1="397.2" y1="74.32" x2="395.8" y2="74.32" stroke="#000" stroke-width="0.8" />
<line x1="228.5" y1="77.29" x2="229.9" y2="77.29" stroke="#000" stroke-width="0.8" />
<line x1="397.2" y1="77.29" x2="395.8" y2="77.29" stroke="#000" stroke-width="0.8" />
<line x1="228.5" y1="80.26" x2="229.9" y2="80.26" stroke="#000" stroke-width="0.8" />
<line x1="397.2" y1="80.26" x2="395.8" y2="80.26" stroke="#000" stroke-width="0.8" />
<line x1="228.5" y1="83.23" x2="229.9" y2="83.23" stroke="#000" stroke-width="0.8" />
<line x1="397.2" y1="83.23" x2="395.8" y2="83.23" stroke="#000" stroke-width="0.8" />
<line x1="228.5" y1="86.2" x2="231.1" y2="86.2" stroke="#000" stroke-width="0.8" />
<line x1="397.2" y1="86.2" x2="394.6" y2="86.2" stroke="#000" stroke-width="0.8" />
<line x1="228.5" y1="89.17" x2="229.9" y2="89.17" stroke="#000" stroke-width="0.8" />
<line x1="397.2" y1="89.17" x2="395.8" y2="89.17" stroke="#000" stroke-width="0.8" />
<line x1="228.5" y1="92.14" x2="229.9" y2="92.14" stroke="#000" stroke-width="0.8" />
<line x1="397.2" y1="92.14" x2="395.8" y2="92.14" stroke="#000" stroke-width="0.8" />
<line x1="228.5" y1="95.11" x2="229.9" y2="95.11" stroke="#000" stroke-width="0.8" />
<line x1="397.2" y1="95.11" x2="395.8" y2="95.11" stroke="#000" stroke-width="0.8" />
<line x1="228.5" y1="98.08" x2="229.9" y2="98.08" stroke="#000" stroke-width="0.8" />
<line x1="397.2" y1="98.08" x2="395.8" y2="98.08" stroke="#000" stroke-width="0.8" />
<line x1="228.5" y1="101.05" x2="231.1" y2="101.05" stroke="#000" stroke-width="0.8" />
<line x1="397.2" y1="101.05" x2="394.6" y2="101.05" stroke="#000" stroke-width="0.8" />
<line x1="228.5" y1="104.02" x2="229.9" y2="104.02" stroke="#000" stroke-width="0.8" />
<line x1="397.2" y1="104.02" x2="395.8" y2="104.02" stroke="#000" stroke-width="0.8" />
<line x1="228.5" y1="106.99" x2="229.9" y2="106.99" stroke="#000" stroke-width="0.8" />
<line x1="397.2" y1="106.99" x2="395.8" y2="106.99" stroke="#000" stroke-width="0.8" />
<line x1="228.5" y1="109.96" x2="229.9" y2="109.96" stroke="#000" stroke-width="0.8" />
<line x1="397.2" y1="109.96" x2="395.8" y2="109.96" stroke="#000" stroke-width="0.8" />
<line x1="228.5" y1="112.93" x2="229.9" y2="112.93" stroke="#000" stroke-width="0.8" />
<line x1="397.2" y1="112.93" x2="395.8" y2="112.93" stroke="#000" stroke-width="0.8" />
<line x1="228.5" y1="115.9" x2="231.1" y2="115.9" stroke="#000" stroke-width="0.8" />
<line x1="397.2" y1="115.9" x2="394.6" y2="115.9" stroke="#000" stroke-width="0.8" />
<line x1="228.5" y1="118.87" x2="229.9" y2="118.87" stroke="#000" stroke-width="0.8" />
<line x1="397.2" y1="118.87" x2="395.8" y2="118.87" stroke="#000" stroke-width="0.8" />
<line x1="228.5" y1="121.84" x2="229.9" y2="121.84" stroke="#000" stroke-width="0.8" />
<line x1="397.2" y1="121.84" x2="395.8" y2="121.84" stroke="#000" stroke-width="0.8" />
<line x1="228.5" y1="124.81" x2="229.9" y2="124.81" stroke="#000" stroke-width="0.8" />
<line x1="397.2" y1="124.81" x2="395.8" y2="124.81" stroke="#000" stroke-width="0.8" />
<line x1="228.5" y1="127.78" x2="229.9" y2="127.78" stroke="#000" stroke-width="0.8" />
<line x1="397.2" y1="127.78" x2="395.8" y2="127.78" stroke="#000" stroke-width="0.8" />
<line x1="228.5" y1="130.75" x2="231.1" y2="130.75" stroke="#000" stroke-width="0.8" />
<line x1="397.2" y1="130.75" x2="394.6" y2="130.75" stroke="#000" stroke-width="0.8" />
<text x="232.4" y="36.9" font-family="Liberation Sans" font-size="10.2" text-anchor="start" fill="#111" >(b)</text>
<text x="289.9" y="24.6" font-family="Liberation Serif" font-size="8.9" fill="#1a1a1a" stroke="#1a1a1a" stroke-width="0.1" textLength="14.6" lengthAdjust="spacing">11<tspan font-style="italic">λ</tspan></text>
<line x1="300.6" y1="17.4" x2="303.8" y2="17.4" stroke="#1a1a1a" stroke-width="0.75" />
<text x="366.3" y="24.6" font-family="Liberation Serif" font-size="8.9" fill="#1a1a1a" stroke="#1a1a1a" stroke-width="0.1" textLength="14.6" lengthAdjust="spacing">12<tspan font-style="italic">λ</tspan></text>
<line x1="377" y1="17.4" x2="380.2" y2="17.4" stroke="#1a1a1a" stroke-width="0.75" />
<polygon points="278.6,115.4 282,113.7 282,117.1" fill="#2b5580"/>
<polygon points="297.4,115.4 294,113.7 294,117.1" fill="#2b5580"/>
<line x1="280.6" y1="115.4" x2="284.3" y2="115.4" stroke="#2b5580" stroke-width="1.0" />
<line x1="291.5" y1="115.4" x2="295.4" y2="115.4" stroke="#2b5580" stroke-width="1.0" />
<line x1="285.5" y1="115.4" x2="290.5" y2="115.4" stroke="#444" stroke-width="0.9" />
<text x="285.6" y="111.7" font-family="Liberation Serif" font-size="9.0" text-anchor="start" fill="#1a1a1a" font-style="italic">λ</text>
<line x1="287" y1="104.4" x2="289.5" y2="104.4" stroke="#222" stroke-width="0.8" />
<text x="288.2" y="124" font-family="Liberation Serif" font-size="9.4" text-anchor="middle" fill="#1a1a1a" >4</text>
<text x="274.6" y="95.6" font-family="Liberation Serif" font-size="8.0" text-anchor="middle" fill="#3048c0" stroke="#2c45bd" stroke-width="0.15">I</text>
<text x="294" y="88" font-family="Liberation Serif" font-size="8.0" text-anchor="middle" fill="#3048c0" stroke="#2c45bd" stroke-width="0.15">II</text>
<text x="334.1" y="80" font-family="Liberation Serif" font-size="8.0" text-anchor="middle" fill="#3048c0" stroke="#2c45bd" stroke-width="0.15">III</text>
<text x="348.2" y="95.8" font-family="Liberation Serif" font-size="8.0" text-anchor="middle" fill="#3048c0" stroke="#2c45bd" stroke-width="0.15">IV</text>
<text x="401.3" y="92.7" font-family="Liberation Serif" font-size="10.9" text-anchor="start" fill="#858585" textLength="58.6" lengthAdjust="spacingAndGlyphs" ><tspan font-style="italic">λ</tspan> = 89.24 nm</text>
<line x1="402.8" y1="84.4" x2="406.4" y2="84.4" stroke="#858585" stroke-width="0.7" />
<line x1="40.6" y1="154.1" x2="40.6" y2="257.8" stroke="#666" stroke-width="0.9" stroke-dasharray="1.6,1.4,0.6,1.4" />
<line x1="60.6" y1="154.1" x2="60.6" y2="257.8" stroke="#404040" stroke-width="0.9" stroke-dasharray="2,1.5" />
<line x1="119.3" y1="154.1" x2="119.3" y2="257.8" stroke="#666" stroke-width="0.9" stroke-dasharray="1.6,1.4,0.6,1.4" />
<line x1="138.2" y1="154.1" x2="138.2" y2="257.8" stroke="#404040" stroke-width="0.9" stroke-dasharray="2,1.5" />
<g clip-path="url(#clipC)">
<polyline points="35.5,224.8 39.9,223.7" stroke="#2a3eba" stroke-width="1.7" fill="none" />
<path d="M40.4,216.3 C43.5,213.9 49,212.7 60.5,211.5 C80,209.6 105,207.3 119.3,204.5" fill="none" stroke="#2a3eba" stroke-width="1.7" stroke-linecap="round"/>
<path d="M119.4,195.1 C121.5,193.6 126,192.6 138,191.5 C160,189.2 180,186.8 196.6,184.6" fill="none" stroke="#2a3eba" stroke-width="1.7" stroke-linecap="round"/>
<polyline points="197.8,175.3 201,174.3 204.3,173.3" stroke="#2a3eba" stroke-width="1.7" fill="none" />
<polygon points="35.5,220.7 36.47,222.96 38.92,223.19 37.07,224.81 37.62,227.21 35.5,225.96 33.38,227.21 33.93,224.81 32.08,223.19 34.53,222.96" fill="#4ccf4c"/>
<polygon points="43.94,220.4 44.91,222.66 47.36,222.89 45.51,224.51 46.06,226.91 43.94,225.66 41.82,226.91 42.37,224.51 40.52,222.89 42.97,222.66" fill="#4ccf4c"/>
<polygon points="52.38,220.4 53.35,222.66 55.8,222.89 53.95,224.51 54.5,226.91 52.38,225.66 50.26,226.91 50.81,224.51 48.96,222.89 51.41,222.66" fill="#4ccf4c"/>
<polygon points="60.82,220.4 61.79,222.66 64.24,222.89 62.39,224.51 62.94,226.91 60.82,225.66 58.7,226.91 59.25,224.51 57.4,222.89 59.85,222.66" fill="#4ccf4c"/>
<polygon points="69.26,201.2 70.23,203.46 72.68,203.69 70.83,205.31 71.38,207.71 69.26,206.46 67.14,207.71 67.69,205.31 65.84,203.69 68.29,203.46" fill="#4ccf4c"/>
<polygon points="77.7,201.2 78.67,203.46 81.12,203.69 79.27,205.31 79.82,207.71 77.7,206.46 75.58,207.71 76.13,205.31 74.28,203.69 76.73,203.46" fill="#4ccf4c"/>
<polygon points="86.14,201.2 87.11,203.46 89.56,203.69 87.71,205.31 88.26,207.71 86.14,206.46 84.02,207.71 84.57,205.31 82.72,203.69 85.17,203.46" fill="#4ccf4c"/>
<polygon points="94.58,201.2 95.55,203.46 98,203.69 96.15,205.31 96.7,207.71 94.58,206.46 92.46,207.71 93.01,205.31 91.16,203.69 93.61,203.46" fill="#4ccf4c"/>
<polygon points="103.02,201.2 103.99,203.46 106.44,203.69 104.59,205.31 105.14,207.71 103.02,206.46 100.9,207.71 101.45,205.31 99.6,203.69 102.05,203.46" fill="#4ccf4c"/>
<polygon points="111.46,201 112.43,203.26 114.88,203.49 113.03,205.11 113.58,207.51 111.46,206.26 109.34,207.51 109.89,205.11 108.04,203.49 110.49,203.26" fill="#4ccf4c"/>
<polygon points="119.9,200.6 120.87,202.86 123.32,203.09 121.47,204.71 122.02,207.11 119.9,205.86 117.78,207.11 118.33,204.71 116.48,203.09 118.93,202.86" fill="#4ccf4c"/>
<polygon points="128.34,200.6 129.31,202.86 131.76,203.09 129.91,204.71 130.46,207.11 128.34,205.86 126.22,207.11 126.77,204.71 124.92,203.09 127.37,202.86" fill="#4ccf4c"/>
<polygon points="136.78,200.6 137.75,202.86 140.2,203.09 138.35,204.71 138.9,207.11 136.78,205.86 134.66,207.11 135.21,204.71 133.36,203.09 135.81,202.86" fill="#4ccf4c"/>
<polygon points="145.22,181.1 146.19,183.36 148.64,183.59 146.79,185.21 147.34,187.61 145.22,186.36 143.1,187.61 143.65,185.21 141.8,183.59 144.25,183.36" fill="#4ccf4c"/>
<polygon points="153.66,181.1 154.63,183.36 157.08,183.59 155.23,185.21 155.78,187.61 153.66,186.36 151.54,187.61 152.09,185.21 150.24,183.59 152.69,183.36" fill="#4ccf4c"/>
<polygon points="162.1,181.1 163.07,183.36 165.52,183.59 163.67,185.21 164.22,187.61 162.1,186.36 159.98,187.61 160.53,185.21 158.68,183.59 161.13,183.36" fill="#4ccf4c"/>
<polygon points="170.54,181.1 171.51,183.36 173.96,183.59 172.11,185.21 172.66,187.61 170.54,186.36 168.42,187.61 168.97,185.21 167.12,183.59 169.57,183.36" fill="#4ccf4c"/>
<polygon points="178.98,181.1 179.95,183.36 182.4,183.59 180.55,185.21 181.1,187.61 178.98,186.36 176.86,187.61 177.41,185.21 175.56,183.59 178.01,183.36" fill="#4ccf4c"/>
<polygon points="187.42,181.1 188.39,183.36 190.84,183.59 188.99,185.21 189.54,187.61 187.42,186.36 185.3,187.61 185.85,185.21 184,183.59 186.45,183.36" fill="#4ccf4c"/>
<polygon points="195.86,181.1 196.83,183.36 199.28,183.59 197.43,185.21 197.98,187.61 195.86,186.36 193.74,187.61 194.29,185.21 192.44,183.59 194.89,183.36" fill="#4ccf4c"/>
<polygon points="204.3,181.1 205.27,183.36 207.72,183.59 205.87,185.21 206.42,187.61 204.3,186.36 202.18,187.61 202.73,185.21 200.88,183.59 203.33,183.36" fill="#4ccf4c"/>
<circle cx="35.5" cy="224.1" r="1.72" fill="#000" stroke="none" stroke-width="1"/>
<circle cx="43.94" cy="223.8" r="1.72" fill="#000" stroke="none" stroke-width="1"/>
<circle cx="52.38" cy="223.8" r="1.72" fill="#000" stroke="none" stroke-width="1"/>
<circle cx="60.82" cy="223.8" r="1.72" fill="#000" stroke="none" stroke-width="1"/>
<circle cx="69.26" cy="204.6" r="1.72" fill="#000" stroke="none" stroke-width="1"/>
<circle cx="77.7" cy="204.6" r="1.72" fill="#000" stroke="none" stroke-width="1"/>
<circle cx="86.14" cy="204.6" r="1.72" fill="#000" stroke="none" stroke-width="1"/>
<circle cx="94.58" cy="204.6" r="1.72" fill="#000" stroke="none" stroke-width="1"/>
<circle cx="103.02" cy="204.6" r="1.72" fill="#000" stroke="none" stroke-width="1"/>
<circle cx="111.46" cy="204.4" r="1.72" fill="#000" stroke="none" stroke-width="1"/>
<circle cx="119.9" cy="204" r="1.72" fill="#000" stroke="none" stroke-width="1"/>
<circle cx="128.34" cy="204" r="1.72" fill="#000" stroke="none" stroke-width="1"/>
<circle cx="136.78" cy="204" r="1.72" fill="#000" stroke="none" stroke-width="1"/>
<circle cx="145.22" cy="184.5" r="1.72" fill="#000" stroke="none" stroke-width="1"/>
<circle cx="153.66" cy="184.5" r="1.72" fill="#000" stroke="none" stroke-width="1"/>
<circle cx="162.1" cy="184.5" r="1.72" fill="#000" stroke="none" stroke-width="1"/>
<circle cx="170.54" cy="184.5" r="1.72" fill="#000" stroke="none" stroke-width="1"/>
<circle cx="178.98" cy="184.5" r="1.72" fill="#000" stroke="none" stroke-width="1"/>
<circle cx="187.42" cy="184.5" r="1.72" fill="#000" stroke="none" stroke-width="1"/>
<circle cx="195.86" cy="184.5" r="1.72" fill="#000" stroke="none" stroke-width="1"/>
<circle cx="204.3" cy="184.5" r="1.72" fill="#000" stroke="none" stroke-width="1"/>
</g>
<line x1="35.5" y1="257.8" x2="35.5" y2="255.2" stroke="#000" stroke-width="0.8" />
<line x1="35.5" y1="154.1" x2="35.5" y2="156.7" stroke="#000" stroke-width="0.8" />
<line x1="43.94" y1="257.8" x2="43.94" y2="256.4" stroke="#000" stroke-width="0.8" />
<line x1="43.94" y1="154.1" x2="43.94" y2="155.5" stroke="#000" stroke-width="0.8" />
<line x1="52.38" y1="257.8" x2="52.38" y2="256.4" stroke="#000" stroke-width="0.8" />
<line x1="52.38" y1="154.1" x2="52.38" y2="155.5" stroke="#000" stroke-width="0.8" />
<line x1="60.82" y1="257.8" x2="60.82" y2="256.4" stroke="#000" stroke-width="0.8" />
<line x1="60.82" y1="154.1" x2="60.82" y2="155.5" stroke="#000" stroke-width="0.8" />
<line x1="69.26" y1="257.8" x2="69.26" y2="256.4" stroke="#000" stroke-width="0.8" />
<line x1="69.26" y1="154.1" x2="69.26" y2="155.5" stroke="#000" stroke-width="0.8" />
<line x1="77.7" y1="257.8" x2="77.7" y2="255.2" stroke="#000" stroke-width="0.8" />
<line x1="77.7" y1="154.1" x2="77.7" y2="156.7" stroke="#000" stroke-width="0.8" />
<line x1="86.14" y1="257.8" x2="86.14" y2="256.4" stroke="#000" stroke-width="0.8" />
<line x1="86.14" y1="154.1" x2="86.14" y2="155.5" stroke="#000" stroke-width="0.8" />
<line x1="94.58" y1="257.8" x2="94.58" y2="256.4" stroke="#000" stroke-width="0.8" />
<line x1="94.58" y1="154.1" x2="94.58" y2="155.5" stroke="#000" stroke-width="0.8" />
<line x1="103.02" y1="257.8" x2="103.02" y2="256.4" stroke="#000" stroke-width="0.8" />
<line x1="103.02" y1="154.1" x2="103.02" y2="155.5" stroke="#000" stroke-width="0.8" />
<line x1="111.46" y1="257.8" x2="111.46" y2="256.4" stroke="#000" stroke-width="0.8" />
<line x1="111.46" y1="154.1" x2="111.46" y2="155.5" stroke="#000" stroke-width="0.8" />
<line x1="119.9" y1="257.8" x2="119.9" y2="255.2" stroke="#000" stroke-width="0.8" />
<line x1="119.9" y1="154.1" x2="119.9" y2="156.7" stroke="#000" stroke-width="0.8" />
<line x1="128.34" y1="257.8" x2="128.34" y2="256.4" stroke="#000" stroke-width="0.8" />
<line x1="128.34" y1="154.1" x2="128.34" y2="155.5" stroke="#000" stroke-width="0.8" />
<line x1="136.78" y1="257.8" x2="136.78" y2="256.4" stroke="#000" stroke-width="0.8" />
<line x1="136.78" y1="154.1" x2="136.78" y2="155.5" stroke="#000" stroke-width="0.8" />
<line x1="145.22" y1="257.8" x2="145.22" y2="256.4" stroke="#000" stroke-width="0.8" />
<line x1="145.22" y1="154.1" x2="145.22" y2="155.5" stroke="#000" stroke-width="0.8" />
<line x1="153.66" y1="257.8" x2="153.66" y2="256.4" stroke="#000" stroke-width="0.8" />
<line x1="153.66" y1="154.1" x2="153.66" y2="155.5" stroke="#000" stroke-width="0.8" />
<line x1="162.1" y1="257.8" x2="162.1" y2="255.2" stroke="#000" stroke-width="0.8" />
<line x1="162.1" y1="154.1" x2="162.1" y2="156.7" stroke="#000" stroke-width="0.8" />
<line x1="170.54" y1="257.8" x2="170.54" y2="256.4" stroke="#000" stroke-width="0.8" />
<line x1="170.54" y1="154.1" x2="170.54" y2="155.5" stroke="#000" stroke-width="0.8" />
<line x1="178.98" y1="257.8" x2="178.98" y2="256.4" stroke="#000" stroke-width="0.8" />
<line x1="178.98" y1="154.1" x2="178.98" y2="155.5" stroke="#000" stroke-width="0.8" />
<line x1="187.42" y1="257.8" x2="187.42" y2="256.4" stroke="#000" stroke-width="0.8" />
<line x1="187.42" y1="154.1" x2="187.42" y2="155.5" stroke="#000" stroke-width="0.8" />
<line x1="195.86" y1="257.8" x2="195.86" y2="256.4" stroke="#000" stroke-width="0.8" />
<line x1="195.86" y1="154.1" x2="195.86" y2="155.5" stroke="#000" stroke-width="0.8" />
<line x1="204.3" y1="257.8" x2="204.3" y2="255.2" stroke="#000" stroke-width="0.8" />
<line x1="204.3" y1="154.1" x2="204.3" y2="156.7" stroke="#000" stroke-width="0.8" />
<rect x="35.5" y="154.1" width="168.8" height="103.7" fill="none" stroke="#000" stroke-width="1.1"/>
<line x1="35.5" y1="154.1" x2="38.1" y2="154.1" stroke="#000" stroke-width="0.8" />
<line x1="204.3" y1="154.1" x2="201.7" y2="154.1" stroke="#000" stroke-width="0.8" />
<line x1="35.5" y1="158.11" x2="36.9" y2="158.11" stroke="#000" stroke-width="0.8" />
<line x1="204.3" y1="158.11" x2="202.9" y2="158.11" stroke="#000" stroke-width="0.8" />
<line x1="35.5" y1="162.12" x2="36.9" y2="162.12" stroke="#000" stroke-width="0.8" />
<line x1="204.3" y1="162.12" x2="202.9" y2="162.12" stroke="#000" stroke-width="0.8" />
<line x1="35.5" y1="166.13" x2="36.9" y2="166.13" stroke="#000" stroke-width="0.8" />
<line x1="204.3" y1="166.13" x2="202.9" y2="166.13" stroke="#000" stroke-width="0.8" />
<line x1="35.5" y1="170.14" x2="36.9" y2="170.14" stroke="#000" stroke-width="0.8" />
<line x1="204.3" y1="170.14" x2="202.9" y2="170.14" stroke="#000" stroke-width="0.8" />
<line x1="35.5" y1="174.15" x2="38.1" y2="174.15" stroke="#000" stroke-width="0.8" />
<line x1="204.3" y1="174.15" x2="201.7" y2="174.15" stroke="#000" stroke-width="0.8" />
<line x1="35.5" y1="178.16" x2="36.9" y2="178.16" stroke="#000" stroke-width="0.8" />
<line x1="204.3" y1="178.16" x2="202.9" y2="178.16" stroke="#000" stroke-width="0.8" />
<line x1="35.5" y1="182.17" x2="36.9" y2="182.17" stroke="#000" stroke-width="0.8" />
<line x1="204.3" y1="182.17" x2="202.9" y2="182.17" stroke="#000" stroke-width="0.8" />
<line x1="35.5" y1="186.18" x2="36.9" y2="186.18" stroke="#000" stroke-width="0.8" />
<line x1="204.3" y1="186.18" x2="202.9" y2="186.18" stroke="#000" stroke-width="0.8" />
<line x1="35.5" y1="190.19" x2="36.9" y2="190.19" stroke="#000" stroke-width="0.8" />
<line x1="204.3" y1="190.19" x2="202.9" y2="190.19" stroke="#000" stroke-width="0.8" />
<line x1="35.5" y1="194.2" x2="38.1" y2="194.2" stroke="#000" stroke-width="0.8" />
<line x1="204.3" y1="194.2" x2="201.7" y2="194.2" stroke="#000" stroke-width="0.8" />
<line x1="35.5" y1="198.21" x2="36.9" y2="198.21" stroke="#000" stroke-width="0.8" />
<line x1="204.3" y1="198.21" x2="202.9" y2="198.21" stroke="#000" stroke-width="0.8" />
<line x1="35.5" y1="202.22" x2="36.9" y2="202.22" stroke="#000" stroke-width="0.8" />
<line x1="204.3" y1="202.22" x2="202.9" y2="202.22" stroke="#000" stroke-width="0.8" />
<line x1="35.5" y1="206.23" x2="36.9" y2="206.23" stroke="#000" stroke-width="0.8" />
<line x1="204.3" y1="206.23" x2="202.9" y2="206.23" stroke="#000" stroke-width="0.8" />
<line x1="35.5" y1="210.24" x2="36.9" y2="210.24" stroke="#000" stroke-width="0.8" />
<line x1="204.3" y1="210.24" x2="202.9" y2="210.24" stroke="#000" stroke-width="0.8" />
<line x1="35.5" y1="214.25" x2="38.1" y2="214.25" stroke="#000" stroke-width="0.8" />
<line x1="204.3" y1="214.25" x2="201.7" y2="214.25" stroke="#000" stroke-width="0.8" />
<line x1="35.5" y1="218.26" x2="36.9" y2="218.26" stroke="#000" stroke-width="0.8" />
<line x1="204.3" y1="218.26" x2="202.9" y2="218.26" stroke="#000" stroke-width="0.8" />
<line x1="35.5" y1="222.27" x2="36.9" y2="222.27" stroke="#000" stroke-width="0.8" />
<line x1="204.3" y1="222.27" x2="202.9" y2="222.27" stroke="#000" stroke-width="0.8" />
<line x1="35.5" y1="226.28" x2="36.9" y2="226.28" stroke="#000" stroke-width="0.8" />
<line x1="204.3" y1="226.28" x2="202.9" y2="226.28" stroke="#000" stroke-width="0.8" />
<line x1="35.5" y1="230.29" x2="36.9" y2="230.29" stroke="#000" stroke-width="0.8" />
<line x1="204.3" y1="230.29" x2="202.9" y2="230.29" stroke="#000" stroke-width="0.8" />
<line x1="35.5" y1="234.3" x2="38.1" y2="234.3" stroke="#000" stroke-width="0.8" />
<line x1="204.3" y1="234.3" x2="201.7" y2="234.3" stroke="#000" stroke-width="0.8" />
<line x1="35.5" y1="238.31" x2="36.9" y2="238.31" stroke="#000" stroke-width="0.8" />
<line x1="204.3" y1="238.31" x2="202.9" y2="238.31" stroke="#000" stroke-width="0.8" />
<line x1="35.5" y1="242.32" x2="36.9" y2="242.32" stroke="#000" stroke-width="0.8" />
<line x1="204.3" y1="242.32" x2="202.9" y2="242.32" stroke="#000" stroke-width="0.8" />
<line x1="35.5" y1="246.33" x2="36.9" y2="246.33" stroke="#000" stroke-width="0.8" />
<line x1="204.3" y1="246.33" x2="202.9" y2="246.33" stroke="#000" stroke-width="0.8" />
<line x1="35.5" y1="250.34" x2="36.9" y2="250.34" stroke="#000" stroke-width="0.8" />
<line x1="204.3" y1="250.34" x2="202.9" y2="250.34" stroke="#000" stroke-width="0.8" />
<line x1="35.5" y1="254.35" x2="38.1" y2="254.35" stroke="#000" stroke-width="0.8" />
<line x1="204.3" y1="254.35" x2="201.7" y2="254.35" stroke="#000" stroke-width="0.8" />
<text x="33.4" y="157.9" font-family="Liberation Sans" font-size="10" text-anchor="end" fill="#111" >13</text>
<text x="33.4" y="178.5" font-family="Liberation Sans" font-size="10" text-anchor="end" fill="#111" >12</text>
<text x="33.4" y="198.6" font-family="Liberation Sans" font-size="10" text-anchor="end" fill="#111" >11</text>
<text x="33.4" y="218.5" font-family="Liberation Sans" font-size="10" text-anchor="end" fill="#111" >10</text>
<text x="33.4" y="237.8" font-family="Liberation Sans" font-size="10" text-anchor="end" fill="#111" >9</text>
<text x="33.4" y="257.8" font-family="Liberation Sans" font-size="10" text-anchor="end" fill="#111" >8</text>
<text x="38.8" y="166.6" font-family="Liberation Sans" font-size="10.2" text-anchor="start" fill="#111" >(c)</text>
<text x="53.9" y="151.6" font-family="Liberation Serif" font-size="8.9" fill="#1a1a1a" stroke="#1a1a1a" stroke-width="0.1" textLength="14.6" lengthAdjust="spacing">10<tspan font-style="italic">λ</tspan></text>
<line x1="64.6" y1="144.4" x2="67.8" y2="144.4" stroke="#1a1a1a" stroke-width="0.75" />
<text x="130.9" y="151.5" font-family="Liberation Serif" font-size="8.9" fill="#1a1a1a" stroke="#1a1a1a" stroke-width="0.1" textLength="14.6" lengthAdjust="spacing">11<tspan font-style="italic">λ</tspan></text>
<line x1="141.6" y1="144.3" x2="144.8" y2="144.3" stroke="#1a1a1a" stroke-width="0.75" />
<polygon points="119.3,240.6 122.7,238.9 122.7,242.3" fill="#2b5580"/>
<polygon points="138.4,240.6 135,238.9 135,242.3" fill="#2b5580"/>
<line x1="121.3" y1="240.6" x2="125.15" y2="240.6" stroke="#2b5580" stroke-width="1.0" />
<line x1="132.35" y1="240.6" x2="136.4" y2="240.6" stroke="#2b5580" stroke-width="1.0" />
<line x1="126.35" y1="240.6" x2="131.35" y2="240.6" stroke="#444" stroke-width="0.9" />
<text x="126.45" y="236.9" font-family="Liberation Serif" font-size="9.0" text-anchor="start" fill="#1a1a1a" font-style="italic">λ</text>
<line x1="127.85" y1="229.6" x2="130.35" y2="229.6" stroke="#222" stroke-width="0.8" />
<text x="129.05" y="249.2" font-family="Liberation Serif" font-size="9.4" text-anchor="middle" fill="#1a1a1a" >4</text>
<line x1="279" y1="154.3" x2="279" y2="257.8" stroke="#666" stroke-width="0.9" stroke-dasharray="1.6,1.4,0.6,1.4" />
<line x1="297.5" y1="154.3" x2="297.5" y2="257.8" stroke="#404040" stroke-width="0.9" stroke-dasharray="2,1.5" />
<line x1="354.3" y1="154.3" x2="354.3" y2="257.8" stroke="#666" stroke-width="0.9" stroke-dasharray="1.6,1.4,0.6,1.4" />
<line x1="372.6" y1="154.3" x2="372.6" y2="257.8" stroke="#404040" stroke-width="0.9" stroke-dasharray="2,1.5" />
<g clip-path="url(#clipD)">
<polyline points="228.8,209.9 278.8,206.6" stroke="#2a3eba" stroke-width="1.7" fill="none" />
<polyline points="278.7,191.5 296,190.4 338.4,188 354.8,187" stroke="#2a3eba" stroke-width="1.7" fill="none" />
<polyline points="354.8,171.1 397.5,168.5" stroke="#2a3eba" stroke-width="1.7" fill="none" />
<polygon points="228.8,202.7 229.77,204.96 232.22,205.19 230.37,206.81 230.92,209.21 228.8,207.96 226.68,209.21 227.23,206.81 225.38,205.19 227.83,204.96" fill="#4ccf4c"/>
<polygon points="237.24,202.7 238.21,204.96 240.66,205.19 238.81,206.81 239.35,209.21 237.24,207.96 235.12,209.21 235.66,206.81 233.81,205.19 236.26,204.96" fill="#4ccf4c"/>
<polygon points="245.67,202.6 246.64,204.86 249.09,205.09 247.24,206.71 247.79,209.11 245.67,207.86 243.55,209.11 244.1,206.71 242.25,205.09 244.7,204.86" fill="#4ccf4c"/>
<polygon points="254.11,202.5 255.08,204.76 257.53,204.99 255.68,206.61 256.22,209.01 254.11,207.76 251.99,209.01 252.53,206.61 250.68,204.99 253.13,204.76" fill="#4ccf4c"/>
<polygon points="262.54,202.4 263.51,204.66 265.96,204.89 264.11,206.51 264.66,208.91 262.54,207.66 260.42,208.91 260.97,206.51 259.12,204.89 261.57,204.66" fill="#4ccf4c"/>
<polygon points="270.98,202.1 271.95,204.36 274.4,204.59 272.55,206.21 273.09,208.61 270.98,207.36 268.86,208.61 269.4,206.21 267.55,204.59 270,204.36" fill="#4ccf4c"/>
<polygon points="279.41,201.9 280.38,204.16 282.83,204.39 280.98,206.01 281.53,208.41 279.41,207.16 277.29,208.41 277.84,206.01 275.99,204.39 278.44,204.16" fill="#4ccf4c"/>
<polygon points="287.85,202 288.82,204.26 291.27,204.49 289.42,206.11 289.96,208.51 287.85,207.26 285.73,208.51 286.27,206.11 284.42,204.49 286.87,204.26" fill="#4ccf4c"/>
<polygon points="296.28,183.3 297.25,185.56 299.7,185.79 297.85,187.41 298.4,189.81 296.28,188.56 294.16,189.81 294.71,187.41 292.86,185.79 295.31,185.56" fill="#4ccf4c"/>
<polygon points="304.72,182.8 305.69,185.06 308.14,185.29 306.29,186.91 306.83,189.31 304.72,188.06 302.6,189.31 303.14,186.91 301.29,185.29 303.74,185.06" fill="#4ccf4c"/>
<polygon points="313.15,182.7 314.12,184.96 316.57,185.19 314.72,186.81 315.27,189.21 313.15,187.96 311.03,189.21 311.58,186.81 309.73,185.19 312.18,184.96" fill="#4ccf4c"/>
<polygon points="321.59,182.7 322.56,184.96 325.01,185.19 323.16,186.81 323.7,189.21 321.59,187.96 319.47,189.21 320.01,186.81 318.16,185.19 320.61,184.96" fill="#4ccf4c"/>
<polygon points="330.02,182.7 330.99,184.96 333.44,185.19 331.59,186.81 332.14,189.21 330.02,187.96 327.9,189.21 328.45,186.81 326.6,185.19 329.05,184.96" fill="#4ccf4c"/>
<polygon points="338.46,182.7 339.43,184.96 341.88,185.19 340.03,186.81 340.57,189.21 338.46,187.96 336.34,189.21 336.88,186.81 335.03,185.19 337.48,184.96" fill="#4ccf4c"/>
<polygon points="346.89,182.7 347.86,184.96 350.31,185.19 348.46,186.81 349.01,189.21 346.89,187.96 344.77,189.21 345.32,186.81 343.47,185.19 345.92,184.96" fill="#4ccf4c"/>
<polygon points="355.33,182.2 356.3,184.46 358.75,184.69 356.9,186.31 357.44,188.71 355.33,187.46 353.21,188.71 353.75,186.31 351.9,184.69 354.35,184.46" fill="#4ccf4c"/>
<polygon points="363.76,182.1 364.73,184.36 367.18,184.59 365.33,186.21 365.88,188.61 363.76,187.36 361.64,188.61 362.19,186.21 360.34,184.59 362.79,184.36" fill="#4ccf4c"/>
<polygon points="372.19,163.2 373.17,165.46 375.62,165.69 373.77,167.31 374.31,169.71 372.19,168.46 370.08,169.71 370.62,167.31 368.77,165.69 371.22,165.46" fill="#4ccf4c"/>
<polygon points="380.63,163.2 381.6,165.46 384.05,165.69 382.2,167.31 382.75,169.71 380.63,168.46 378.51,169.71 379.06,167.31 377.21,165.69 379.66,165.46" fill="#4ccf4c"/>
<polygon points="389.06,163.2 390.04,165.46 392.49,165.69 390.64,167.31 391.18,169.71 389.06,168.46 386.95,169.71 387.49,167.31 385.64,165.69 388.09,165.46" fill="#4ccf4c"/>
<polygon points="397.5,163.2 398.47,165.46 400.92,165.69 399.07,167.31 399.62,169.71 397.5,168.46 395.38,169.71 395.93,167.31 394.08,165.69 396.53,165.46" fill="#4ccf4c"/>
<circle cx="228.8" cy="205.7" r="1.72" fill="#000" stroke="none" stroke-width="1"/>
<circle cx="237.24" cy="205.7" r="1.72" fill="#000" stroke="none" stroke-width="1"/>
<circle cx="245.67" cy="205.6" r="1.72" fill="#000" stroke="none" stroke-width="1"/>
<circle cx="254.11" cy="205.5" r="1.72" fill="#000" stroke="none" stroke-width="1"/>
<circle cx="262.54" cy="205.4" r="1.72" fill="#000" stroke="none" stroke-width="1"/>
<circle cx="270.98" cy="205.1" r="1.72" fill="#000" stroke="none" stroke-width="1"/>
<circle cx="279.41" cy="204.9" r="1.72" fill="#000" stroke="none" stroke-width="1"/>
<circle cx="287.85" cy="205" r="1.72" fill="#000" stroke="none" stroke-width="1"/>
<circle cx="296.28" cy="186.3" r="1.72" fill="#000" stroke="none" stroke-width="1"/>
<circle cx="304.72" cy="185.8" r="1.72" fill="#000" stroke="none" stroke-width="1"/>
<circle cx="313.15" cy="185.7" r="1.72" fill="#000" stroke="none" stroke-width="1"/>
<circle cx="321.59" cy="185.7" r="1.72" fill="#000" stroke="none" stroke-width="1"/>
<circle cx="330.02" cy="185.7" r="1.72" fill="#000" stroke="none" stroke-width="1"/>
<circle cx="338.46" cy="185.7" r="1.72" fill="#000" stroke="none" stroke-width="1"/>
<circle cx="346.89" cy="185.7" r="1.72" fill="#000" stroke="none" stroke-width="1"/>
<circle cx="355.33" cy="185.2" r="1.72" fill="#000" stroke="none" stroke-width="1"/>
<circle cx="363.76" cy="185.1" r="1.72" fill="#000" stroke="none" stroke-width="1"/>
<circle cx="372.19" cy="166.2" r="1.72" fill="#000" stroke="none" stroke-width="1"/>
<circle cx="380.63" cy="166.2" r="1.72" fill="#000" stroke="none" stroke-width="1"/>
<circle cx="389.06" cy="166.2" r="1.72" fill="#000" stroke="none" stroke-width="1"/>
<circle cx="397.5" cy="166.2" r="1.72" fill="#000" stroke="none" stroke-width="1"/>
<circle cx="278.7" cy="191.5" r="2.2" fill="none" stroke="#2a3eba" stroke-width="1.1"/>
<circle cx="296" cy="190.4" r="2.2" fill="none" stroke="#2a3eba" stroke-width="1.1"/>
<circle cx="338.4" cy="188" r="2.2" fill="none" stroke="#2a3eba" stroke-width="1.1"/>
<circle cx="354.8" cy="171.1" r="2.2" fill="none" stroke="#2a3eba" stroke-width="1.1"/>
</g>
<line x1="228.8" y1="257.8" x2="228.8" y2="255.2" stroke="#000" stroke-width="0.8" />
<line x1="228.8" y1="154.3" x2="228.8" y2="156.9" stroke="#000" stroke-width="0.8" />
<line x1="237.24" y1="257.8" x2="237.24" y2="256.4" stroke="#000" stroke-width="0.8" />
<line x1="237.24" y1="154.3" x2="237.24" y2="155.7" stroke="#000" stroke-width="0.8" />
<line x1="245.67" y1="257.8" x2="245.67" y2="256.4" stroke="#000" stroke-width="0.8" />
<line x1="245.67" y1="154.3" x2="245.67" y2="155.7" stroke="#000" stroke-width="0.8" />
<line x1="254.11" y1="257.8" x2="254.11" y2="256.4" stroke="#000" stroke-width="0.8" />
<line x1="254.11" y1="154.3" x2="254.11" y2="155.7" stroke="#000" stroke-width="0.8" />
<line x1="262.54" y1="257.8" x2="262.54" y2="256.4" stroke="#000" stroke-width="0.8" />
<line x1="262.54" y1="154.3" x2="262.54" y2="155.7" stroke="#000" stroke-width="0.8" />
<line x1="270.98" y1="257.8" x2="270.98" y2="255.2" stroke="#000" stroke-width="0.8" />
<line x1="270.98" y1="154.3" x2="270.98" y2="156.9" stroke="#000" stroke-width="0.8" />
<line x1="279.41" y1="257.8" x2="279.41" y2="256.4" stroke="#000" stroke-width="0.8" />
<line x1="279.41" y1="154.3" x2="279.41" y2="155.7" stroke="#000" stroke-width="0.8" />
<line x1="287.85" y1="257.8" x2="287.85" y2="256.4" stroke="#000" stroke-width="0.8" />
<line x1="287.85" y1="154.3" x2="287.85" y2="155.7" stroke="#000" stroke-width="0.8" />
<line x1="296.28" y1="257.8" x2="296.28" y2="256.4" stroke="#000" stroke-width="0.8" />
<line x1="296.28" y1="154.3" x2="296.28" y2="155.7" stroke="#000" stroke-width="0.8" />
<line x1="304.72" y1="257.8" x2="304.72" y2="256.4" stroke="#000" stroke-width="0.8" />
<line x1="304.72" y1="154.3" x2="304.72" y2="155.7" stroke="#000" stroke-width="0.8" />
<line x1="313.15" y1="257.8" x2="313.15" y2="255.2" stroke="#000" stroke-width="0.8" />
<line x1="313.15" y1="154.3" x2="313.15" y2="156.9" stroke="#000" stroke-width="0.8" />
<line x1="321.59" y1="257.8" x2="321.59" y2="256.4" stroke="#000" stroke-width="0.8" />
<line x1="321.59" y1="154.3" x2="321.59" y2="155.7" stroke="#000" stroke-width="0.8" />
<line x1="330.02" y1="257.8" x2="330.02" y2="256.4" stroke="#000" stroke-width="0.8" />
<line x1="330.02" y1="154.3" x2="330.02" y2="155.7" stroke="#000" stroke-width="0.8" />
<line x1="338.46" y1="257.8" x2="338.46" y2="256.4" stroke="#000" stroke-width="0.8" />
<line x1="338.46" y1="154.3" x2="338.46" y2="155.7" stroke="#000" stroke-width="0.8" />
<line x1="346.89" y1="257.8" x2="346.89" y2="256.4" stroke="#000" stroke-width="0.8" />
<line x1="346.89" y1="154.3" x2="346.89" y2="155.7" stroke="#000" stroke-width="0.8" />
<line x1="355.33" y1="257.8" x2="355.33" y2="255.2" stroke="#000" stroke-width="0.8" />
<line x1="355.33" y1="154.3" x2="355.33" y2="156.9" stroke="#000" stroke-width="0.8" />
<line x1="363.76" y1="257.8" x2="363.76" y2="256.4" stroke="#000" stroke-width="0.8" />
<line x1="363.76" y1="154.3" x2="363.76" y2="155.7" stroke="#000" stroke-width="0.8" />
<line x1="372.19" y1="257.8" x2="372.19" y2="256.4" stroke="#000" stroke-width="0.8" />
<line x1="372.19" y1="154.3" x2="372.19" y2="155.7" stroke="#000" stroke-width="0.8" />
<line x1="380.63" y1="257.8" x2="380.63" y2="256.4" stroke="#000" stroke-width="0.8" />
<line x1="380.63" y1="154.3" x2="380.63" y2="155.7" stroke="#000" stroke-width="0.8" />
<line x1="389.06" y1="257.8" x2="389.06" y2="256.4" stroke="#000" stroke-width="0.8" />
<line x1="389.06" y1="154.3" x2="389.06" y2="155.7" stroke="#000" stroke-width="0.8" />
<line x1="397.5" y1="257.8" x2="397.5" y2="255.2" stroke="#000" stroke-width="0.8" />
<line x1="397.5" y1="154.3" x2="397.5" y2="156.9" stroke="#000" stroke-width="0.8" />
<rect x="228.8" y="154.3" width="168.7" height="103.5" fill="none" stroke="#000" stroke-width="1.1"/>
<line x1="228.8" y1="153.8" x2="231.4" y2="153.8" stroke="#000" stroke-width="0.8" />
<line x1="397.5" y1="153.8" x2="394.9" y2="153.8" stroke="#000" stroke-width="0.8" />
<line x1="228.8" y1="157.8" x2="230.2" y2="157.8" stroke="#000" stroke-width="0.8" />
<line x1="397.5" y1="157.8" x2="396.1" y2="157.8" stroke="#000" stroke-width="0.8" />
<line x1="228.8" y1="161.8" x2="230.2" y2="161.8" stroke="#000" stroke-width="0.8" />
<line x1="397.5" y1="161.8" x2="396.1" y2="161.8" stroke="#000" stroke-width="0.8" />
<line x1="228.8" y1="165.8" x2="230.2" y2="165.8" stroke="#000" stroke-width="0.8" />
<line x1="397.5" y1="165.8" x2="396.1" y2="165.8" stroke="#000" stroke-width="0.8" />
<line x1="228.8" y1="169.8" x2="230.2" y2="169.8" stroke="#000" stroke-width="0.8" />
<line x1="397.5" y1="169.8" x2="396.1" y2="169.8" stroke="#000" stroke-width="0.8" />
<line x1="228.8" y1="173.8" x2="231.4" y2="173.8" stroke="#000" stroke-width="0.8" />
<line x1="397.5" y1="173.8" x2="394.9" y2="173.8" stroke="#000" stroke-width="0.8" />
<line x1="228.8" y1="177.8" x2="230.2" y2="177.8" stroke="#000" stroke-width="0.8" />
<line x1="397.5" y1="177.8" x2="396.1" y2="177.8" stroke="#000" stroke-width="0.8" />
<line x1="228.8" y1="181.8" x2="230.2" y2="181.8" stroke="#000" stroke-width="0.8" />
<line x1="397.5" y1="181.8" x2="396.1" y2="181.8" stroke="#000" stroke-width="0.8" />
<line x1="228.8" y1="185.8" x2="230.2" y2="185.8" stroke="#000" stroke-width="0.8" />
<line x1="397.5" y1="185.8" x2="396.1" y2="185.8" stroke="#000" stroke-width="0.8" />
<line x1="228.8" y1="189.8" x2="230.2" y2="189.8" stroke="#000" stroke-width="0.8" />
<line x1="397.5" y1="189.8" x2="396.1" y2="189.8" stroke="#000" stroke-width="0.8" />
<line x1="228.8" y1="193.8" x2="231.4" y2="193.8" stroke="#000" stroke-width="0.8" />
<line x1="397.5" y1="193.8" x2="394.9" y2="193.8" stroke="#000" stroke-width="0.8" />
<line x1="228.8" y1="197.8" x2="230.2" y2="197.8" stroke="#000" stroke-width="0.8" />
<line x1="397.5" y1="197.8" x2="396.1" y2="197.8" stroke="#000" stroke-width="0.8" />
<line x1="228.8" y1="201.8" x2="230.2" y2="201.8" stroke="#000" stroke-width="0.8" />
<line x1="397.5" y1="201.8" x2="396.1" y2="201.8" stroke="#000" stroke-width="0.8" />
<line x1="228.8" y1="205.8" x2="230.2" y2="205.8" stroke="#000" stroke-width="0.8" />
<line x1="397.5" y1="205.8" x2="396.1" y2="205.8" stroke="#000" stroke-width="0.8" />
<line x1="228.8" y1="209.8" x2="230.2" y2="209.8" stroke="#000" stroke-width="0.8" />
<line x1="397.5" y1="209.8" x2="396.1" y2="209.8" stroke="#000" stroke-width="0.8" />
<line x1="228.8" y1="213.8" x2="231.4" y2="213.8" stroke="#000" stroke-width="0.8" />
<line x1="397.5" y1="213.8" x2="394.9" y2="213.8" stroke="#000" stroke-width="0.8" />
<line x1="228.8" y1="217.8" x2="230.2" y2="217.8" stroke="#000" stroke-width="0.8" />
<line x1="397.5" y1="217.8" x2="396.1" y2="217.8" stroke="#000" stroke-width="0.8" />
<line x1="228.8" y1="221.8" x2="230.2" y2="221.8" stroke="#000" stroke-width="0.8" />
<line x1="397.5" y1="221.8" x2="396.1" y2="221.8" stroke="#000" stroke-width="0.8" />
<line x1="228.8" y1="225.8" x2="230.2" y2="225.8" stroke="#000" stroke-width="0.8" />
<line x1="397.5" y1="225.8" x2="396.1" y2="225.8" stroke="#000" stroke-width="0.8" />
<line x1="228.8" y1="229.8" x2="230.2" y2="229.8" stroke="#000" stroke-width="0.8" />
<line x1="397.5" y1="229.8" x2="396.1" y2="229.8" stroke="#000" stroke-width="0.8" />
<line x1="228.8" y1="233.8" x2="231.4" y2="233.8" stroke="#000" stroke-width="0.8" />
<line x1="397.5" y1="233.8" x2="394.9" y2="233.8" stroke="#000" stroke-width="0.8" />
<line x1="228.8" y1="237.8" x2="230.2" y2="237.8" stroke="#000" stroke-width="0.8" />
<line x1="397.5" y1="237.8" x2="396.1" y2="237.8" stroke="#000" stroke-width="0.8" />
<line x1="228.8" y1="241.8" x2="230.2" y2="241.8" stroke="#000" stroke-width="0.8" />
<line x1="397.5" y1="241.8" x2="396.1" y2="241.8" stroke="#000" stroke-width="0.8" />
<line x1="228.8" y1="245.8" x2="230.2" y2="245.8" stroke="#000" stroke-width="0.8" />
<line x1="397.5" y1="245.8" x2="396.1" y2="245.8" stroke="#000" stroke-width="0.8" />
<line x1="228.8" y1="249.8" x2="230.2" y2="249.8" stroke="#000" stroke-width="0.8" />
<line x1="397.5" y1="249.8" x2="396.1" y2="249.8" stroke="#000" stroke-width="0.8" />
<line x1="228.8" y1="253.8" x2="231.4" y2="253.8" stroke="#000" stroke-width="0.8" />
<line x1="397.5" y1="253.8" x2="394.9" y2="253.8" stroke="#000" stroke-width="0.8" />
<text x="232.2" y="166.6" font-family="Liberation Sans" font-size="10.2" text-anchor="start" fill="#111" >(d)</text>
<text x="289.8" y="151.5" font-family="Liberation Serif" font-size="8.9" fill="#1a1a1a" stroke="#1a1a1a" stroke-width="0.1" textLength="14.6" lengthAdjust="spacing">11<tspan font-style="italic">λ</tspan></text>
<line x1="300.5" y1="144.3" x2="303.7" y2="144.3" stroke="#1a1a1a" stroke-width="0.75" />
<text x="366.3" y="151.5" font-family="Liberation Serif" font-size="8.9" fill="#1a1a1a" stroke="#1a1a1a" stroke-width="0.1" textLength="14.6" lengthAdjust="spacing">12<tspan font-style="italic">λ</tspan></text>
<line x1="377" y1="144.3" x2="380.2" y2="144.3" stroke="#1a1a1a" stroke-width="0.75" />
<polygon points="279,240.6 282.4,238.9 282.4,242.3" fill="#2b5580"/>
<polygon points="297.5,240.6 294.1,238.9 294.1,242.3" fill="#2b5580"/>
<line x1="281" y1="240.6" x2="284.55" y2="240.6" stroke="#2b5580" stroke-width="1.0" />
<line x1="291.75" y1="240.6" x2="295.5" y2="240.6" stroke="#2b5580" stroke-width="1.0" />
<line x1="285.75" y1="240.6" x2="290.75" y2="240.6" stroke="#444" stroke-width="0.9" />
<text x="285.85" y="236.9" font-family="Liberation Serif" font-size="9.0" text-anchor="start" fill="#1a1a1a" font-style="italic">λ</text>
<line x1="287.25" y1="229.6" x2="289.75" y2="229.6" stroke="#222" stroke-width="0.8" />
<text x="288.45" y="249.2" font-family="Liberation Serif" font-size="9.4" text-anchor="middle" fill="#1a1a1a" >4</text>
<text x="276" y="188.7" font-family="Liberation Serif" font-size="8.0" text-anchor="middle" fill="#3048c0" stroke="#2c45bd" stroke-width="0.15">I</text>
<text x="294.3" y="198.4" font-family="Liberation Serif" font-size="8.0" text-anchor="middle" fill="#3048c0" stroke="#2c45bd" stroke-width="0.15">II</text>
<text x="338.8" y="197" font-family="Liberation Serif" font-size="8.0" text-anchor="middle" fill="#3048c0" stroke="#2c45bd" stroke-width="0.15">III</text>
<text x="359.4" y="179.4" font-family="Liberation Serif" font-size="8.0" text-anchor="middle" fill="#3048c0" stroke="#2c45bd" stroke-width="0.15">IV</text>
<text x="35.9" y="268.5" font-family="Liberation Sans" font-size="10" text-anchor="middle" fill="#111" >900</text>
<text x="78.1" y="268.5" font-family="Liberation Sans" font-size="10" text-anchor="middle" fill="#111" >950</text>
<text x="120.3" y="268.5" font-family="Liberation Sans" font-size="10" text-anchor="middle" fill="#111" >1000</text>
<text x="162.5" y="268.5" font-family="Liberation Sans" font-size="10" text-anchor="middle" fill="#111" >1050</text>
<text x="204.7" y="268.5" font-family="Liberation Sans" font-size="10" text-anchor="middle" fill="#111" >1100</text>
<text x="229.2" y="268.5" font-family="Liberation Sans" font-size="10" text-anchor="middle" fill="#111" >900</text>
<text x="271.38" y="268.5" font-family="Liberation Sans" font-size="10" text-anchor="middle" fill="#111" >950</text>
<text x="313.55" y="268.5" font-family="Liberation Sans" font-size="10" text-anchor="middle" fill="#111" >1000</text>
<text x="355.73" y="268.5" font-family="Liberation Sans" font-size="10" text-anchor="middle" fill="#111" >1050</text>
<text x="397.9" y="268.5" font-family="Liberation Sans" font-size="10" text-anchor="middle" fill="#111" >1100</text>
<text x="100.6" y="285.7" font-family="Liberation Serif" font-size="13.4" text-anchor="start" fill="#111" ><tspan font-style="italic">L</tspan> [nm]</text>
<text x="293.3" y="285.7" font-family="Liberation Serif" font-size="13.4" text-anchor="start" fill="#111" ><tspan font-style="italic">L</tspan> [nm]</text>
<text transform="translate(15.2,84.5) rotate(-90)" font-family="Liberation Serif" font-size="13.4" text-anchor="middle" fill="#111"><tspan font-style="italic">λ</tspan> [nm]</text>
<text transform="translate(15.2,208.0) rotate(-90)" font-family="Liberation Serif" font-size="14.4" text-anchor="middle" fill="#111">Number of <tspan font-style="italic">λ</tspan></text>
<path d="M73.6,1.6 C73.4,0.2 71.6,-0.2 70.2,1.0 C68.4,2.6 67.3,5.4 67.8,7.4 C68.3,9.3 70.9,9.0 72.6,7.6" fill="none" stroke="#111" stroke-width="1.25" stroke-linecap="round"/>
<text x="74.3" y="10.6" font-family="Liberation Serif" font-size="8.4" text-anchor="start" fill="#222" textLength="10.6" lengthAdjust="spacingAndGlyphs" font-style="italic">nv</text>
<text x="89.6" y="9.5" font-family="Liberation Serif" font-size="13.9" text-anchor="start" fill="#111" >Symmetry</text>
<path d="M269.6,2.6 C269.9,1.0 271.2,0.5 273.0,0.5 L278.6,0.2" fill="none" stroke="#111" stroke-width="1.5" stroke-linecap="round"/>
<path d="M275.0,0.8 C274.2,3.6 273.2,6.6 271.8,9.2" fill="none" stroke="#111" stroke-width="1.2" stroke-linecap="round"/>
<text x="283.7" y="9.3" font-family="Liberation Serif" font-size="13.9" text-anchor="start" fill="#111" >Symmetry</text>
<text x="416.6" y="36.1" font-family="Liberation Sans" font-size="10.2" text-anchor="start" fill="#111" >(e)</text>
<line x1="634.9" y1="51.6" x2="634.9" y2="33" stroke="#111" stroke-width="1.0" />
<polygon points="634.9,30.3 633.2,34.6 636.6,34.6" fill="#111"/>
<line x1="634.9" y1="51.6" x2="654.5" y2="51.6" stroke="#111" stroke-width="1.0" />
<polygon points="657.6,51.6 653.3,49.9 653.3,53.3" fill="#111"/>
<text x="627" y="35.4" font-family="Liberation Serif" font-size="10" text-anchor="middle" fill="#111" font-style="italic">z</text>
<text x="658" y="58.8" font-family="Liberation Serif" font-size="10" text-anchor="middle" fill="#111" font-style="italic">y</text>
<text x="432.6" y="58.8" font-family="Liberation Serif" font-size="10.6" text-anchor="start" fill="#111" textLength="67.5" lengthAdjust="spacingAndGlyphs" stroke="#111" stroke-width="0.12"><tspan font-style="italic">L</tspan><tspan font-size="7.4" dy="-3.9">(I)</tspan><tspan dy="3.9"> ≈ 11.14 </tspan><tspan font-style="italic">λ</tspan><tspan font-size="7.4" dy="-3.9">(I)</tspan></text>
<text x="542.1" y="60" font-family="Liberation Serif" font-size="10.6" text-anchor="start" fill="#2c45bd" textLength="69.6" lengthAdjust="spacingAndGlyphs" stroke="#2c45bd" stroke-width="0.18"><tspan font-style="italic">λ</tspan><tspan font-size="7.4" dy="-3.9">(I)</tspan><tspan dy="3.9"> = 86.16 nm</tspan></text>
<line x1="468" y1="78" x2="595" y2="78" stroke="#000" stroke-width="1.8" />
<polygon points="603,78 592,74.4 594.5,78 592,81.6" fill="#000"/>
<circle cx="470.2" cy="81.3" r="2" fill="#eba57c" stroke="#555" stroke-width="0.5"/>
<circle cx="480.2" cy="75.9" r="2" fill="#c4d4cc" stroke="#555" stroke-width="0.5"/>
<polygon points="490.4,69.6 487.8,73.8 493,73.8" fill="#2f5f8c"/>
<line x1="490.4" y1="78" x2="490.4" y2="71.1" stroke="#5aaae6" stroke-width="1.7" />
<line x1="500.2" y1="78" x2="500.2" y2="70.6" stroke="#2f6db5" stroke-width="2.0" />
<polygon points="500.2,66.1 497.5,70.6 502.9,70.6" fill="#2f6db5"/>
<ellipse cx="500.2" cy="70.4" rx="2.5" ry="0.6" fill="#1d3d60" opacity="0.8"/>
<line x1="510.1" y1="78" x2="510.1" y2="71.3" stroke="#2f6db5" stroke-width="2.0" />
<polygon points="510.1,66.8 507.4,71.3 512.8,71.3" fill="#2f6db5"/>
<ellipse cx="510.1" cy="71.1" rx="2.5" ry="0.6" fill="#1d3d60" opacity="0.8"/>
<line x1="520.8" y1="78" x2="520.8" y2="73.6" stroke="#62a4d6" stroke-width="1.6" />
<polygon points="520.8,70.7 518.2,73.6 523.4,73.6" fill="#62a4d6"/>
<circle cx="520.8" cy="74" r="2.47" fill="#62a4d6" stroke="none" stroke-width="1"/>
<circle cx="530.9" cy="78" r="2.6" fill="#b4b490" stroke="#3a3a2a" stroke-width="0.5"/>
<line x1="542" y1="78" x2="542" y2="82.3" stroke="#e08878" stroke-width="1.6" />
<polygon points="542,85.2 539.4,82.3 544.6,82.3" fill="#e08878"/>
<circle cx="542" cy="81.9" r="2.47" fill="#e08878" stroke="none" stroke-width="1"/>
<line x1="552" y1="78" x2="552" y2="84.1" stroke="#a8384a" stroke-width="2.0" />
<polygon points="552,89.6 548.8,84.1 555.2,84.1" fill="#a8384a"/>
<line x1="562.2" y1="78" x2="562.2" y2="84.3" stroke="#8e2438" stroke-width="2.0" />
<polygon points="562.2,89.8 559,84.3 565.4,84.3" fill="#8e2438"/>
<line x1="572.4" y1="78" x2="572.4" y2="82" stroke="#c0505e" stroke-width="1.8" />
<polygon points="572.4,86.6 569.5,82 575.3,82" fill="#c0505e"/>
<circle cx="582" cy="80.5" r="2" fill="#e9c890" stroke="#555" stroke-width="0.5"/>
<circle cx="592.6" cy="74.9" r="2" fill="#8fc0d6" stroke="#555" stroke-width="0.5"/>
<text x="677.95" y="82.9" font-family="Liberation Serif" font-size="12.6" text-anchor="middle" fill="#3048c0" >I</text>
<text x="433.1" y="118.1" font-family="Liberation Serif" font-size="10.6" text-anchor="start" fill="#111" textLength="72.6" lengthAdjust="spacingAndGlyphs" stroke="#111" stroke-width="0.12"><tspan font-style="italic">L</tspan><tspan font-size="7.4" dy="-3.9">(II)</tspan><tspan dy="3.9"> ≈ 11.20 </tspan><tspan font-style="italic">λ</tspan><tspan font-size="7.4" dy="-3.9">(II)</tspan></text>
<text x="543.9" y="119" font-family="Liberation Serif" font-size="10.6" text-anchor="start" fill="#2c45bd" textLength="72.4" lengthAdjust="spacingAndGlyphs" stroke="#2c45bd" stroke-width="0.18"><tspan font-style="italic">λ</tspan><tspan font-size="7.4" dy="-3.9">(II)</tspan><tspan dy="3.9"> = 87.52 nm</tspan></text>
<line x1="459.4" y1="140.5" x2="607.7" y2="140.5" stroke="#000" stroke-width="1.8" />
<polygon points="615.7,140.5 604.7,136.9 607.2,140.5 604.7,144.1" fill="#000"/>
<line x1="461.2" y1="140.5" x2="461.2" y2="145.5" stroke="#b8404e" stroke-width="1.6" />
<polygon points="461.2,148.2 458.8,145.5 463.6,145.5" fill="#b8404e"/>
<circle cx="461.2" cy="145.1" r="2.28" fill="#b8404e" stroke="none" stroke-width="1"/>
<circle cx="473.4" cy="142.1" r="2" fill="#e9c890" stroke="#555" stroke-width="0.5"/>
<circle cx="484.8" cy="137.6" r="2.3" fill="#3d86cc" stroke="#555" stroke-width="0.5"/>
<line x1="495.9" y1="140.5" x2="495.9" y2="133.7" stroke="#2f6db5" stroke-width="2.0" />
<polygon points="495.9,129.2 493.2,133.7 498.6,133.7" fill="#2f6db5"/>
<ellipse cx="495.9" cy="133.5" rx="2.5" ry="0.6" fill="#1d3d60" opacity="0.8"/>
<line x1="506.7" y1="140.5" x2="506.7" y2="133.2" stroke="#2f6db5" stroke-width="2.0" />
<polygon points="506.7,128.7 504,133.2 509.4,133.2" fill="#2f6db5"/>
<ellipse cx="506.7" cy="133" rx="2.5" ry="0.6" fill="#1d3d60" opacity="0.8"/>
<line x1="519" y1="140.5" x2="519" y2="135.6" stroke="#62a4d6" stroke-width="1.6" />
<polygon points="519,132.7 516.4,135.6 521.6,135.6" fill="#62a4d6"/>
<circle cx="519" cy="136" r="2.47" fill="#62a4d6" stroke="none" stroke-width="1"/>
<circle cx="530.9" cy="140.5" r="2.6" fill="#b4b490" stroke="#3a3a2a" stroke-width="0.5"/>
<line x1="542.5" y1="140.5" x2="542.5" y2="144.5" stroke="#e08878" stroke-width="1.6" />
<polygon points="542.5,147.3 540,144.5 545,144.5" fill="#e08878"/>
<circle cx="542.5" cy="144.1" r="2.38" fill="#e08878" stroke="none" stroke-width="1"/>
<line x1="554.4" y1="140.5" x2="554.4" y2="146.5" stroke="#8e2438" stroke-width="2.0" />
<polygon points="554.4,152 551.2,146.5 557.6,146.5" fill="#8e2438"/>
<line x1="565.8" y1="140.5" x2="565.8" y2="145.4" stroke="#8e2438" stroke-width="2.0" />
<polygon points="565.8,150.9 562.6,145.4 569,145.4" fill="#8e2438"/>
<circle cx="577" cy="143.4" r="2.2" fill="#e08878" stroke="#555" stroke-width="0.5"/>
<circle cx="588.4" cy="139" r="2" fill="#c4d4cc" stroke="#555" stroke-width="0.5"/>
<line x1="600" y1="140.5" x2="600" y2="135.5" stroke="#3d86cc" stroke-width="1.6" />
<polygon points="600,132.7 597.5,135.5 602.5,135.5" fill="#3d86cc"/>
<circle cx="600" cy="135.9" r="2.38" fill="#3d86cc" stroke="none" stroke-width="1"/>
<text x="678.65" y="144.8" font-family="Liberation Serif" font-size="12.6" text-anchor="middle" fill="#3048c0" >II</text>
<text x="433.1" y="183.1" font-family="Liberation Serif" font-size="10.6" text-anchor="start" fill="#111" textLength="77.8" lengthAdjust="spacingAndGlyphs" stroke="#111" stroke-width="0.12"><tspan font-style="italic">L</tspan><tspan font-size="7.4" dy="-3.9">(III)</tspan><tspan dy="3.9"> ≈ 11.31 </tspan><tspan font-style="italic">λ</tspan><tspan font-size="7.4" dy="-3.9">(III)</tspan></text>
<text x="542.2" y="183.1" font-family="Liberation Serif" font-size="10.6" text-anchor="start" fill="#2c45bd" textLength="74.4" lengthAdjust="spacingAndGlyphs" stroke="#2c45bd" stroke-width="0.18"><tspan font-style="italic">λ</tspan><tspan font-size="7.4" dy="-3.9">(III)</tspan><tspan dy="3.9"> = 91.06 nm</tspan></text>
<line x1="427.4" y1="203.8" x2="636.1" y2="203.8" stroke="#000" stroke-width="1.8" />
<polygon points="644.1,203.8 633.1,200.2 635.6,203.8 633.1,207.4" fill="#000"/>
<line x1="427.9" y1="203.8" x2="427.9" y2="210.4" stroke="#8e2438" stroke-width="2.0" />
<polygon points="427.9,215.9 424.7,210.4 431.1,210.4" fill="#8e2438"/>
<line x1="444.5" y1="203.8" x2="444.5" y2="209.5" stroke="#b8404e" stroke-width="1.6" />
<polygon points="444.5,212.3 442,209.5 447,209.5" fill="#b8404e"/>
<circle cx="444.5" cy="209.1" r="2.38" fill="#b8404e" stroke="none" stroke-width="1"/>
<circle cx="459.4" cy="206.2" r="2" fill="#e9c890" stroke="#555" stroke-width="0.5"/>
<circle cx="473.4" cy="200.9" r="2.3" fill="#3d86cc" stroke="#555" stroke-width="0.5"/>
<line x1="487.1" y1="203.8" x2="487.1" y2="197.6" stroke="#2f6db5" stroke-width="2.0" />
<polygon points="487.1,193.1 484.4,197.6 489.8,197.6" fill="#2f6db5"/>
<ellipse cx="487.1" cy="197.4" rx="2.5" ry="0.6" fill="#1d3d60" opacity="0.8"/>
<line x1="501.5" y1="203.8" x2="501.5" y2="196.9" stroke="#2f6db5" stroke-width="2.0" />
<polygon points="501.5,192.4 498.8,196.9 504.2,196.9" fill="#2f6db5"/>
<ellipse cx="501.5" cy="196.7" rx="2.5" ry="0.6" fill="#1d3d60" opacity="0.8"/>
<line x1="515.8" y1="203.8" x2="515.8" y2="199.2" stroke="#62a4d6" stroke-width="1.6" />
<polygon points="515.8,196.3 513.2,199.2 518.4,199.2" fill="#62a4d6"/>
<circle cx="515.8" cy="199.6" r="2.47" fill="#62a4d6" stroke="none" stroke-width="1"/>
<circle cx="530.9" cy="203.8" r="2.6" fill="#b4b490" stroke="#3a3a2a" stroke-width="0.5"/>
<line x1="545.7" y1="203.8" x2="545.7" y2="208.7" stroke="#e08878" stroke-width="1.6" />
<polygon points="545.7,211.5 543.2,208.7 548.2,208.7" fill="#e08878"/>
<circle cx="545.7" cy="208.3" r="2.38" fill="#e08878" stroke="none" stroke-width="1"/>
<line x1="560.6" y1="203.8" x2="560.6" y2="210.4" stroke="#8e2438" stroke-width="2.0" />
<polygon points="560.6,215.9 557.4,210.4 563.8,210.4" fill="#8e2438"/>
<line x1="574.6" y1="203.8" x2="574.6" y2="209.2" stroke="#8e2438" stroke-width="2.0" />
<polygon points="574.6,214.7 571.4,209.2 577.8,209.2" fill="#8e2438"/>
<circle cx="588.4" cy="207.3" r="2.2" fill="#e08878" stroke="#555" stroke-width="0.5"/>
<circle cx="603" cy="202.3" r="2" fill="#c4d4cc" stroke="#555" stroke-width="0.5"/>
<line x1="617.9" y1="203.8" x2="617.9" y2="198.8" stroke="#3d86cc" stroke-width="1.6" />
<polygon points="617.9,196 615.4,198.8 620.4,198.8" fill="#3d86cc"/>
<circle cx="617.9" cy="199.2" r="2.38" fill="#3d86cc" stroke="none" stroke-width="1"/>
<line x1="634" y1="203.8" x2="634" y2="196.4" stroke="#2f6db5" stroke-width="2.0" />
<polygon points="634,191.9 631.3,196.4 636.7,196.4" fill="#2f6db5"/>
<ellipse cx="634" cy="196.2" rx="2.5" ry="0.6" fill="#1d3d60" opacity="0.8"/>
<text x="678.45" y="208.7" font-family="Liberation Serif" font-size="12.6" text-anchor="middle" fill="#3048c0" >III</text>
<text x="433.6" y="239.1" font-family="Liberation Serif" font-size="10.6" text-anchor="start" fill="#111" textLength="77.8" lengthAdjust="spacingAndGlyphs" stroke="#111" stroke-width="0.12"><tspan font-style="italic">L</tspan><tspan font-size="7.4" dy="-3.9">(IV)</tspan><tspan dy="3.9"> ≈ 12.15 </tspan><tspan font-style="italic">λ</tspan><tspan font-size="7.4" dy="-3.9">(IV)</tspan></text>
<text x="545.3" y="239.5" font-family="Liberation Serif" font-size="10.6" text-anchor="start" fill="#2c45bd" textLength="74.1" lengthAdjust="spacingAndGlyphs" stroke="#2c45bd" stroke-width="0.18"><tspan font-style="italic">λ</tspan><tspan font-size="7.4" dy="-3.9">(IV)</tspan><tspan dy="3.9"> = 86.40 nm</tspan></text>
<line x1="406" y1="253.4" x2="659.4" y2="253.4" stroke="#000" stroke-width="1.8" />
<polygon points="667.4,253.4 656.4,249.8 658.9,253.4 656.4,257" fill="#000"/>
<circle cx="406.8" cy="250" r="2.3" fill="#8fc0d6" stroke="#555" stroke-width="0.5"/>
<circle cx="422" cy="255.6" r="2" fill="#eba57c" stroke="#555" stroke-width="0.5"/>
<line x1="439" y1="253.4" x2="439" y2="259.2" stroke="#8e2438" stroke-width="2.0" />
<polygon points="439,264.7 435.8,259.2 442.2,259.2" fill="#8e2438"/>
<line x1="455.8" y1="253.4" x2="455.8" y2="258.5" stroke="#8e2438" stroke-width="2.0" />
<polygon points="455.8,264 452.6,258.5 459,258.5" fill="#8e2438"/>
<circle cx="471.5" cy="255.6" r="2" fill="#e9c890" stroke="#555" stroke-width="0.5"/>
<circle cx="485.8" cy="250" r="2.2" fill="#3d86cc" stroke="#555" stroke-width="0.5"/>
<line x1="500.5" y1="253.4" x2="500.5" y2="246.5" stroke="#2f6db5" stroke-width="2.0" />
<polygon points="500.5,242 497.8,246.5 503.2,246.5" fill="#2f6db5"/>
<ellipse cx="500.5" cy="246.3" rx="2.5" ry="0.6" fill="#1d3d60" opacity="0.8"/>
<line x1="515.3" y1="253.4" x2="515.3" y2="248.6" stroke="#3d86cc" stroke-width="1.8" />
<polygon points="515.3,244.6 512.6,248.6 518,248.6" fill="#3d86cc"/>
<ellipse cx="515.3" cy="248.4" rx="2.5" ry="0.6" fill="#1d3d60" opacity="0.8"/>
<circle cx="530.9" cy="253.4" r="2.6" fill="#b4b490" stroke="#3a3a2a" stroke-width="0.5"/>
<line x1="546" y1="253.4" x2="546" y2="257.3" stroke="#d87868" stroke-width="1.8" />
<polygon points="546,262.3 542.9,257.3 549.1,257.3" fill="#d87868"/>
<line x1="561" y1="253.4" x2="561" y2="259.2" stroke="#8e2438" stroke-width="2.0" />
<polygon points="561,264.7 557.8,259.2 564.2,259.2" fill="#8e2438"/>
<circle cx="575.4" cy="257.2" r="2.2" fill="#e08878" stroke="#555" stroke-width="0.5"/>
<circle cx="590.3" cy="250.8" r="2" fill="#8fb0aa" stroke="#555" stroke-width="0.5"/>
<line x1="605.5" y1="253.4" x2="605.5" y2="247.6" stroke="#2f6db5" stroke-width="2.0" />
<polygon points="605.5,243.1 602.8,247.6 608.2,247.6" fill="#2f6db5"/>
<ellipse cx="605.5" cy="247.4" rx="2.5" ry="0.6" fill="#1d3d60" opacity="0.8"/>
<line x1="622.8" y1="253.4" x2="622.8" y2="246.8" stroke="#2f6db5" stroke-width="2.0" />
<polygon points="622.8,242.3 620.1,246.8 625.5,246.8" fill="#2f6db5"/>
<ellipse cx="622.8" cy="246.6" rx="2.5" ry="0.6" fill="#1d3d60" opacity="0.8"/>
<circle cx="639.2" cy="250.3" r="2" fill="#8fb0aa" stroke="#555" stroke-width="0.5"/>
<circle cx="654.4" cy="256.3" r="2.3" fill="#e08878" stroke="#555" stroke-width="0.5"/>
<text x="674" y="258.1" font-family="Liberation Serif" font-size="12.6" text-anchor="start" fill="#3048c0" >IV</text>
<line x1="530.9" y1="46" x2="530.9" y2="269.5" stroke="#222" stroke-width="1.5" stroke-dasharray="1.4,1.4" />
<text x="519" y="279" font-family="Liberation Serif" font-size="10.8" text-anchor="start" fill="#111" textLength="24.2" lengthAdjust="spacingAndGlyphs" ><tspan font-style="italic">y</tspan> = 0</text>
</svg>
</body></html>
